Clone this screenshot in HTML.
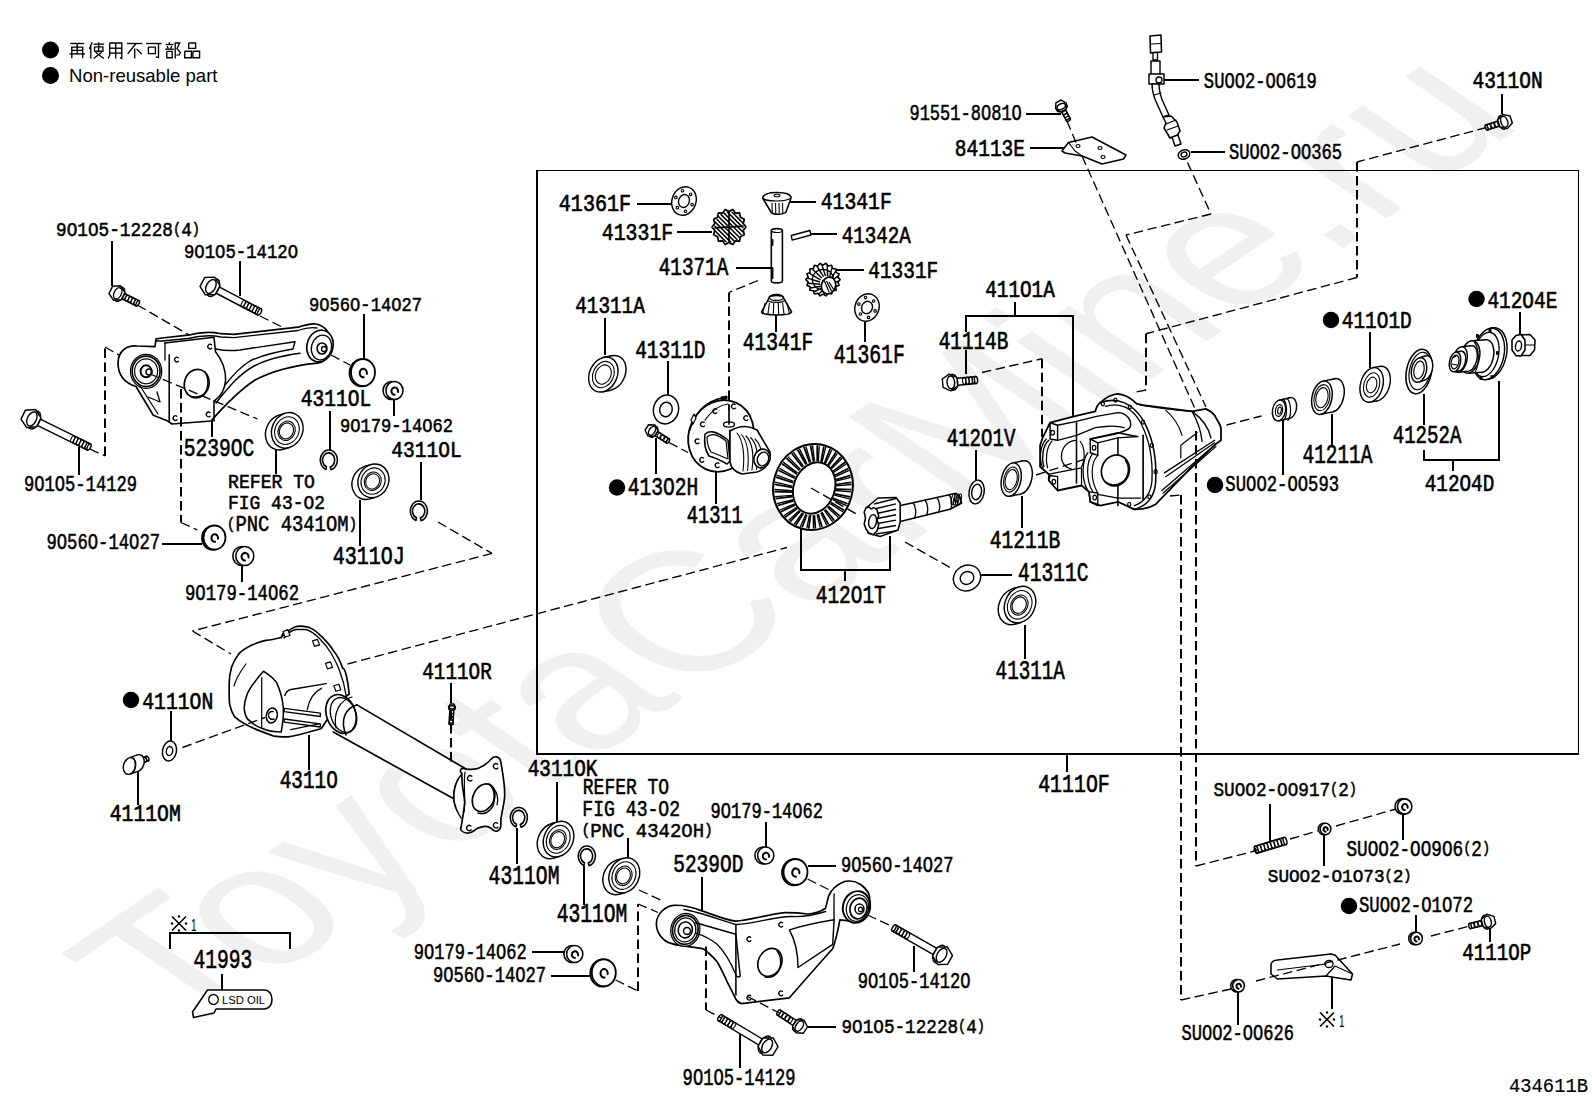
<!DOCTYPE html>
<html><head><meta charset="utf-8"><style>
html,body{margin:0;padding:0;background:#fff;width:1592px;height:1099px;overflow:hidden}
svg{display:block}
</style></head><body>
<svg width="1592" height="1099" viewBox="0 0 1592 1099">
<text transform="matrix(1.7044,-1.1624,1.7915,1.2267,181.33,1040.49)" font-family="Liberation Sans" font-size="100" fill="#f0f0f0">ToyotaCarMine.ru</text>
<polyline points="536,170.5 1579,170.5" fill="none" stroke="#000" stroke-width="1.1"/>
<polyline points="537,170 537,755" fill="none" stroke="#000" stroke-width="2"/>
<polyline points="536,754 1579,754" fill="none" stroke="#000" stroke-width="2"/>
<polyline points="1578.5,170 1578.5,755" fill="none" stroke="#000" stroke-width="1.1"/>
<circle cx="50.5" cy="50" r="8.5" fill="#000"/>
<circle cx="50.5" cy="75.5" r="8.5" fill="#000"/>
<circle cx="131" cy="700" r="8.25" fill="#000"/>
<circle cx="617" cy="487.5" r="8.25" fill="#000"/>
<circle cx="1331" cy="320" r="8.25" fill="#000"/>
<circle cx="1476.5" cy="299" r="8.25" fill="#000"/>
<circle cx="1215" cy="485" r="8.25" fill="#000"/>
<circle cx="1349" cy="906" r="8.25" fill="#000"/>
<text x="69" y="82" font-family="Liberation Sans" font-size="18.5" textLength="148.5" lengthAdjust="spacingAndGlyphs" fill="#000">Non-reusable part</text>
<polyline points="112,241 112,286" fill="none" stroke="#000" stroke-width="2"/>
<polyline points="240,261 240,296" fill="none" stroke="#000" stroke-width="2"/>
<polyline points="364,314 364,361" fill="none" stroke="#000" stroke-width="2"/>
<polyline points="330,411 330,450" fill="none" stroke="#000" stroke-width="2"/>
<polyline points="212,420 212,437" fill="none" stroke="#000" stroke-width="2"/>
<polyline points="79,447 79,475" fill="none" stroke="#000" stroke-width="2"/>
<polyline points="276,447 276,474" fill="none" stroke="#000" stroke-width="2"/>
<polyline points="360,500 360,546" fill="none" stroke="#000" stroke-width="2"/>
<polyline points="162,544 202,544" fill="none" stroke="#000" stroke-width="2"/>
<polyline points="394,399 394,416" fill="none" stroke="#000" stroke-width="2"/>
<polyline points="421,462 421,500" fill="none" stroke="#000" stroke-width="2"/>
<polyline points="242,565 242,582" fill="none" stroke="#000" stroke-width="2"/>
<polyline points="171,711 171,744" fill="none" stroke="#000" stroke-width="2"/>
<polyline points="138,767 138,805" fill="none" stroke="#000" stroke-width="2"/>
<polyline points="309,735 309,770" fill="none" stroke="#000" stroke-width="2"/>
<polyline points="222,974 222,990" fill="none" stroke="#000" stroke-width="2"/>
<polyline points="170,949 170,933 290,933 290,949" fill="none" stroke="#000" stroke-width="2"/>
<polyline points="637,204 672,204" fill="none" stroke="#000" stroke-width="2"/>
<polyline points="677,232 712,232" fill="none" stroke="#000" stroke-width="2"/>
<polyline points="736,268 772,268" fill="none" stroke="#000" stroke-width="2"/>
<polyline points="776,315 776,332" fill="none" stroke="#000" stroke-width="2"/>
<polyline points="605,318 605,355" fill="none" stroke="#000" stroke-width="2"/>
<polyline points="668,361 668,395" fill="none" stroke="#000" stroke-width="2"/>
<polyline points="656,438 656,474" fill="none" stroke="#000" stroke-width="2"/>
<polyline points="716,472 716,504" fill="none" stroke="#000" stroke-width="2"/>
<polyline points="1026,114 1061,114" fill="none" stroke="#000" stroke-width="2"/>
<polyline points="1030,148 1065,148" fill="none" stroke="#000" stroke-width="2"/>
<polyline points="786,202 816,202" fill="none" stroke="#000" stroke-width="2"/>
<polyline points="811,234 837,234" fill="none" stroke="#000" stroke-width="2"/>
<polyline points="836,270 864,270" fill="none" stroke="#000" stroke-width="2"/>
<polyline points="1162,80 1199,80" fill="none" stroke="#000" stroke-width="2"/>
<polyline points="1191,152 1225,152" fill="none" stroke="#000" stroke-width="2"/>
<polyline points="1502,94 1502,114" fill="none" stroke="#000" stroke-width="2"/>
<polyline points="865,321 865,342" fill="none" stroke="#000" stroke-width="2"/>
<polyline points="1015,302 1015,316" fill="none" stroke="#000" stroke-width="2"/>
<polyline points="966,332 966,316 1073,316 1073,417" fill="none" stroke="#000" stroke-width="2"/>
<polyline points="966,350 966,374" fill="none" stroke="#000" stroke-width="2"/>
<polyline points="976,450 976,480" fill="none" stroke="#000" stroke-width="2"/>
<polyline points="1520,312 1520,336" fill="none" stroke="#000" stroke-width="2"/>
<polyline points="1370,332 1370,368" fill="none" stroke="#000" stroke-width="2"/>
<polyline points="1424,394 1424,425" fill="none" stroke="#000" stroke-width="2"/>
<polyline points="1424,450 1424,460 1499,460 1499,381" fill="none" stroke="#000" stroke-width="2"/>
<polyline points="1453,460 1453,471" fill="none" stroke="#000" stroke-width="2"/>
<polyline points="1332,414 1332,445" fill="none" stroke="#000" stroke-width="2"/>
<polyline points="1283,420 1283,475" fill="none" stroke="#000" stroke-width="2"/>
<polyline points="1022,496 1022,528" fill="none" stroke="#000" stroke-width="2"/>
<polyline points="801,529 801,570 890,570 890,536" fill="none" stroke="#000" stroke-width="2"/>
<polyline points="845,570 845,581" fill="none" stroke="#000" stroke-width="2"/>
<polyline points="981,575 1012,575" fill="none" stroke="#000" stroke-width="2"/>
<polyline points="1025,625 1025,659" fill="none" stroke="#000" stroke-width="2"/>
<polyline points="1067,754 1067,772" fill="none" stroke="#000" stroke-width="2"/>
<polyline points="1270,804 1270,844" fill="none" stroke="#000" stroke-width="2"/>
<polyline points="1324,835 1324,866" fill="none" stroke="#000" stroke-width="2"/>
<polyline points="1403,814 1403,840" fill="none" stroke="#000" stroke-width="2"/>
<polyline points="1416,915 1416,932" fill="none" stroke="#000" stroke-width="2"/>
<polyline points="1490,929 1490,942" fill="none" stroke="#000" stroke-width="2"/>
<polyline points="1332,976 1332,1009" fill="none" stroke="#000" stroke-width="2"/>
<polyline points="1238,992 1238,1025" fill="none" stroke="#000" stroke-width="2"/>
<polyline points="517,828 517,864" fill="none" stroke="#000" stroke-width="2"/>
<polyline points="557,782 557,821" fill="none" stroke="#000" stroke-width="2"/>
<polyline points="584,866 584,905" fill="none" stroke="#000" stroke-width="2"/>
<polyline points="628,838 628,858" fill="none" stroke="#000" stroke-width="2"/>
<polyline points="702,877 702,911" fill="none" stroke="#000" stroke-width="2"/>
<polyline points="532,952 568,952" fill="none" stroke="#000" stroke-width="2"/>
<polyline points="551,976 593,976" fill="none" stroke="#000" stroke-width="2"/>
<polyline points="766,822 766,848" fill="none" stroke="#000" stroke-width="2"/>
<polyline points="808,866 836,866" fill="none" stroke="#000" stroke-width="2"/>
<polyline points="914,946 914,972" fill="none" stroke="#000" stroke-width="2"/>
<polyline points="808,1027 836,1027" fill="none" stroke="#000" stroke-width="2"/>
<polyline points="740,1034 740,1068" fill="none" stroke="#000" stroke-width="2"/>
<polyline points="451,683 451,703" fill="none" stroke="#000" stroke-width="2"/>
<polygon points="117.81,296.76 136.36,305.99 139.04,300.61 120.49,291.38" fill="#fff" stroke="#000" stroke-width="1.44" stroke-linejoin="round"/>
<ellipse cx="124.28" cy="296.62" rx="1.60" ry="3.00" fill="none" stroke="#000" stroke-width="1.08" transform="rotate(26.454227757232243 124.28 296.62)"/>
<ellipse cx="127.18" cy="298.07" rx="1.60" ry="3.00" fill="none" stroke="#000" stroke-width="1.08" transform="rotate(26.454227757232243 127.18 298.07)"/>
<ellipse cx="130.08" cy="299.51" rx="1.60" ry="3.00" fill="none" stroke="#000" stroke-width="1.08" transform="rotate(26.454227757232243 130.08 299.51)"/>
<ellipse cx="132.98" cy="300.95" rx="1.60" ry="3.00" fill="none" stroke="#000" stroke-width="1.08" transform="rotate(26.454227757232243 132.98 300.95)"/>
<ellipse cx="135.88" cy="302.39" rx="1.60" ry="3.00" fill="none" stroke="#000" stroke-width="1.08" transform="rotate(26.454227757232243 135.88 302.39)"/>
<ellipse cx="137.70" cy="303.30" rx="1.35" ry="3.00" fill="#fff" stroke="#000" stroke-width="1.44" transform="rotate(26.454227757232243 137.70 303.30)"/>
<ellipse cx="119.51" cy="294.25" rx="4.40" ry="7.60" fill="#fff" stroke="#000" stroke-width="1.44" transform="rotate(26.454227757232243 119.51 294.25)"/>
<polygon points="113.44,300.16 109.02,293.49 112.58,286.33 120.56,285.84 124.98,292.51 121.42,299.67" fill="#fff" stroke="#000" stroke-width="1.44" stroke-linejoin="round"/>
<ellipse cx="117.72" cy="293.36" rx="3.60" ry="6.00" fill="none" stroke="#000" stroke-width="1.44" transform="rotate(26.454227757232243 117.72 293.36)"/>
<polygon points="211.03,290.49 257.87,315.10 261.13,308.90 214.28,284.30" fill="#fff" stroke="#000" stroke-width="1.44" stroke-linejoin="round"/>
<ellipse cx="243.24" cy="303.46" rx="1.60" ry="3.50" fill="none" stroke="#000" stroke-width="1.08" transform="rotate(27.710814015253096 243.24 303.46)"/>
<ellipse cx="246.12" cy="304.97" rx="1.60" ry="3.50" fill="none" stroke="#000" stroke-width="1.08" transform="rotate(27.710814015253096 246.12 304.97)"/>
<ellipse cx="249.01" cy="306.49" rx="1.60" ry="3.50" fill="none" stroke="#000" stroke-width="1.08" transform="rotate(27.710814015253096 249.01 306.49)"/>
<ellipse cx="251.90" cy="308.01" rx="1.60" ry="3.50" fill="none" stroke="#000" stroke-width="1.08" transform="rotate(27.710814015253096 251.90 308.01)"/>
<ellipse cx="254.79" cy="309.52" rx="1.60" ry="3.50" fill="none" stroke="#000" stroke-width="1.08" transform="rotate(27.710814015253096 254.79 309.52)"/>
<ellipse cx="257.67" cy="311.04" rx="1.60" ry="3.50" fill="none" stroke="#000" stroke-width="1.08" transform="rotate(27.710814015253096 257.67 311.04)"/>
<ellipse cx="259.50" cy="312.00" rx="1.57" ry="3.50" fill="#fff" stroke="#000" stroke-width="1.44" transform="rotate(27.710814015253096 259.50 312.00)"/>
<ellipse cx="213.10" cy="287.63" rx="5.50" ry="9.50" fill="#fff" stroke="#000" stroke-width="1.44" transform="rotate(27.710814015253096 213.10 287.63)"/>
<polygon points="205.35,294.85 200.01,286.40 204.66,277.55 214.65,277.15 219.99,285.60 215.34,294.45" fill="#fff" stroke="#000" stroke-width="1.44" stroke-linejoin="round"/>
<ellipse cx="210.89" cy="286.47" rx="4.50" ry="7.50" fill="none" stroke="#000" stroke-width="1.44" transform="rotate(27.710814015253096 210.89 286.47)"/>
<polygon points="32.15,422.96 87.46,450.14 90.54,443.86 35.24,416.68" fill="#fff" stroke="#000" stroke-width="1.44" stroke-linejoin="round"/>
<ellipse cx="72.68" cy="438.98" rx="1.60" ry="3.50" fill="none" stroke="#000" stroke-width="1.08" transform="rotate(26.168546921944873 72.68 438.98)"/>
<ellipse cx="75.58" cy="440.40" rx="1.60" ry="3.50" fill="none" stroke="#000" stroke-width="1.08" transform="rotate(26.168546921944873 75.58 440.40)"/>
<ellipse cx="78.48" cy="441.83" rx="1.60" ry="3.50" fill="none" stroke="#000" stroke-width="1.08" transform="rotate(26.168546921944873 78.48 441.83)"/>
<ellipse cx="81.38" cy="443.25" rx="1.60" ry="3.50" fill="none" stroke="#000" stroke-width="1.08" transform="rotate(26.168546921944873 81.38 443.25)"/>
<ellipse cx="84.28" cy="444.68" rx="1.60" ry="3.50" fill="none" stroke="#000" stroke-width="1.08" transform="rotate(26.168546921944873 84.28 444.68)"/>
<ellipse cx="87.18" cy="446.10" rx="1.60" ry="3.50" fill="none" stroke="#000" stroke-width="1.08" transform="rotate(26.168546921944873 87.18 446.10)"/>
<ellipse cx="89.00" cy="447.00" rx="1.57" ry="3.50" fill="#fff" stroke="#000" stroke-width="1.44" transform="rotate(26.168546921944873 89.00 447.00)"/>
<ellipse cx="34.14" cy="420.04" rx="5.50" ry="9.50" fill="#fff" stroke="#000" stroke-width="1.44" transform="rotate(26.168546921944873 34.14 420.04)"/>
<polygon points="26.59,427.48 21.02,419.17 25.43,410.19 35.41,409.52 40.98,417.83 36.57,426.81" fill="#fff" stroke="#000" stroke-width="1.44" stroke-linejoin="round"/>
<ellipse cx="31.90" cy="418.94" rx="4.50" ry="7.50" fill="none" stroke="#000" stroke-width="1.44" transform="rotate(26.168546921944873 31.90 418.94)"/>
<polygon points="651.80,433.66 666.66,443.11 669.34,438.89 654.49,429.44" fill="#fff" stroke="#000" stroke-width="1.44" stroke-linejoin="round"/>
<ellipse cx="659.11" cy="435.34" rx="1.60" ry="2.50" fill="none" stroke="#000" stroke-width="1.08" transform="rotate(32.47119229084849 659.11 435.34)"/>
<ellipse cx="662.41" cy="437.44" rx="1.60" ry="2.50" fill="none" stroke="#000" stroke-width="1.08" transform="rotate(32.47119229084849 662.41 437.44)"/>
<ellipse cx="665.71" cy="439.54" rx="1.60" ry="2.50" fill="none" stroke="#000" stroke-width="1.08" transform="rotate(32.47119229084849 665.71 439.54)"/>
<ellipse cx="668.00" cy="441.00" rx="1.12" ry="2.50" fill="#fff" stroke="#000" stroke-width="1.44" transform="rotate(32.47119229084849 668.00 441.00)"/>
<ellipse cx="653.42" cy="431.72" rx="3.58" ry="6.17" fill="#fff" stroke="#000" stroke-width="1.44" transform="rotate(32.47119229084849 653.42 431.72)"/>
<polygon points="648.01,435.98 645.01,430.22 648.50,424.74 654.99,425.02 657.99,430.78 654.50,436.26" fill="#fff" stroke="#000" stroke-width="1.44" stroke-linejoin="round"/>
<ellipse cx="652.05" cy="430.85" rx="2.93" ry="4.88" fill="none" stroke="#000" stroke-width="1.44" transform="rotate(32.47119229084849 652.05 430.85)"/>
<polygon points="1059.87,108.65 1066.52,121.06 1070.48,118.94 1063.83,106.52" fill="#fff" stroke="#000" stroke-width="1.44" stroke-linejoin="round"/>
<ellipse cx="1064.57" cy="112.66" rx="1.60" ry="2.25" fill="none" stroke="#000" stroke-width="1.08" transform="rotate(61.82140989004083 1064.57 112.66)"/>
<ellipse cx="1066.07" cy="115.46" rx="1.60" ry="2.25" fill="none" stroke="#000" stroke-width="1.08" transform="rotate(61.82140989004083 1066.07 115.46)"/>
<ellipse cx="1067.57" cy="118.26" rx="1.60" ry="2.25" fill="none" stroke="#000" stroke-width="1.08" transform="rotate(61.82140989004083 1067.57 118.26)"/>
<ellipse cx="1068.50" cy="120.00" rx="1.01" ry="2.25" fill="#fff" stroke="#000" stroke-width="1.44" transform="rotate(61.82140989004083 1068.50 120.00)"/>
<ellipse cx="1061.99" cy="107.85" rx="3.30" ry="5.70" fill="#fff" stroke="#000" stroke-width="1.44" transform="rotate(61.82140989004083 1061.99 107.85)"/>
<polygon points="1055.71,108.83 1055.90,102.84 1061.19,100.00 1066.29,103.17 1066.10,109.16 1060.81,112.00" fill="#fff" stroke="#000" stroke-width="1.44" stroke-linejoin="round"/>
<ellipse cx="1061.28" cy="106.53" rx="2.70" ry="4.50" fill="none" stroke="#000" stroke-width="1.44" transform="rotate(61.82140989004083 1061.28 106.53)"/>
<polygon points="952.87,385.74 976.33,383.48 975.67,376.52 952.20,378.77" fill="#fff" stroke="#000" stroke-width="1.44" stroke-linejoin="round"/>
<ellipse cx="964.19" cy="381.14" rx="1.60" ry="3.50" fill="none" stroke="#000" stroke-width="1.08" transform="rotate(-5.492324557127438 964.19 381.14)"/>
<ellipse cx="967.44" cy="380.82" rx="1.60" ry="3.50" fill="none" stroke="#000" stroke-width="1.08" transform="rotate(-5.492324557127438 967.44 380.82)"/>
<ellipse cx="970.69" cy="380.51" rx="1.60" ry="3.50" fill="none" stroke="#000" stroke-width="1.08" transform="rotate(-5.492324557127438 970.69 380.51)"/>
<ellipse cx="973.94" cy="380.20" rx="1.60" ry="3.50" fill="none" stroke="#000" stroke-width="1.08" transform="rotate(-5.492324557127438 973.94 380.20)"/>
<ellipse cx="976.00" cy="380.00" rx="1.57" ry="3.50" fill="#fff" stroke="#000" stroke-width="1.44" transform="rotate(-5.492324557127438 976.00 380.00)"/>
<ellipse cx="952.96" cy="382.22" rx="4.68" ry="8.07" fill="#fff" stroke="#000" stroke-width="1.44" transform="rotate(-5.492324557127438 952.96 382.22)"/>
<polygon points="950.81,390.96 943.08,387.44 942.27,378.97 949.19,374.04 956.92,377.56 957.73,386.03" fill="#fff" stroke="#000" stroke-width="1.44" stroke-linejoin="round"/>
<ellipse cx="950.85" cy="382.42" rx="3.83" ry="6.38" fill="none" stroke="#000" stroke-width="1.44" transform="rotate(-5.492324557127438 950.85 382.42)"/>
<polygon points="1502.01,119.58 1485.65,124.88 1487.35,130.12 1503.71,124.81" fill="#fff" stroke="#000" stroke-width="1.44" stroke-linejoin="round"/>
<ellipse cx="1496.46" cy="124.27" rx="1.60" ry="2.75" fill="none" stroke="#000" stroke-width="1.08" transform="rotate(162.030860259843 1496.46 124.27)"/>
<ellipse cx="1492.76" cy="125.47" rx="1.60" ry="2.75" fill="none" stroke="#000" stroke-width="1.08" transform="rotate(162.030860259843 1492.76 125.47)"/>
<ellipse cx="1489.06" cy="126.67" rx="1.60" ry="2.75" fill="none" stroke="#000" stroke-width="1.08" transform="rotate(162.030860259843 1489.06 126.67)"/>
<ellipse cx="1486.50" cy="127.50" rx="1.24" ry="2.75" fill="#fff" stroke="#000" stroke-width="1.44" transform="rotate(162.030860259843 1486.50 127.50)"/>
<ellipse cx="1502.50" cy="122.31" rx="4.12" ry="7.12" fill="#fff" stroke="#000" stroke-width="1.44" transform="rotate(162.030860259843 1502.50 122.31)"/>
<polygon points="1502.69,114.37 1510.02,115.93 1512.34,123.06 1507.31,128.63 1499.98,127.07 1497.66,119.94" fill="#fff" stroke="#000" stroke-width="1.44" stroke-linejoin="round"/>
<ellipse cx="1504.29" cy="121.73" rx="3.38" ry="5.62" fill="none" stroke="#000" stroke-width="1.44" transform="rotate(162.030860259843 1504.29 121.73)"/>
<polygon points="1485.66,919.36 1469.35,923.33 1470.65,928.67 1486.96,924.70" fill="#fff" stroke="#000" stroke-width="1.44" stroke-linejoin="round"/>
<ellipse cx="1479.93" cy="923.58" rx="1.60" ry="2.75" fill="none" stroke="#000" stroke-width="1.08" transform="rotate(166.32869286780416 1479.93 923.58)"/>
<ellipse cx="1476.23" cy="924.48" rx="1.60" ry="2.75" fill="none" stroke="#000" stroke-width="1.08" transform="rotate(166.32869286780416 1476.23 924.48)"/>
<ellipse cx="1472.53" cy="925.38" rx="1.60" ry="2.75" fill="none" stroke="#000" stroke-width="1.08" transform="rotate(166.32869286780416 1472.53 925.38)"/>
<ellipse cx="1470.00" cy="926.00" rx="1.24" ry="2.75" fill="#fff" stroke="#000" stroke-width="1.44" transform="rotate(166.32869286780416 1470.00 926.00)"/>
<ellipse cx="1485.95" cy="922.12" rx="4.12" ry="7.12" fill="#fff" stroke="#000" stroke-width="1.44" transform="rotate(166.32869286780416 1485.95 922.12)"/>
<polygon points="1486.73,914.21 1493.92,916.32 1495.70,923.61 1490.27,928.79 1483.08,926.68 1481.30,919.39" fill="#fff" stroke="#000" stroke-width="1.44" stroke-linejoin="round"/>
<ellipse cx="1487.77" cy="921.68" rx="3.38" ry="5.62" fill="none" stroke="#000" stroke-width="1.44" transform="rotate(166.32869286780416 1487.77 921.68)"/>
<polygon points="941.63,951.22 895.74,924.96 892.26,931.04 938.16,957.30" fill="#fff" stroke="#000" stroke-width="1.44" stroke-linejoin="round"/>
<ellipse cx="907.51" cy="935.73" rx="1.60" ry="3.50" fill="none" stroke="#000" stroke-width="1.08" transform="rotate(-150.22332304621455 907.51 935.73)"/>
<ellipse cx="904.60" cy="934.06" rx="1.60" ry="3.50" fill="none" stroke="#000" stroke-width="1.08" transform="rotate(-150.22332304621455 904.60 934.06)"/>
<ellipse cx="901.69" cy="932.40" rx="1.60" ry="3.50" fill="none" stroke="#000" stroke-width="1.08" transform="rotate(-150.22332304621455 901.69 932.40)"/>
<ellipse cx="898.78" cy="930.73" rx="1.60" ry="3.50" fill="none" stroke="#000" stroke-width="1.08" transform="rotate(-150.22332304621455 898.78 930.73)"/>
<ellipse cx="895.87" cy="929.07" rx="1.60" ry="3.50" fill="none" stroke="#000" stroke-width="1.08" transform="rotate(-150.22332304621455 895.87 929.07)"/>
<ellipse cx="894.00" cy="928.00" rx="1.57" ry="3.50" fill="#fff" stroke="#000" stroke-width="1.44" transform="rotate(-150.22332304621455 894.00 928.00)"/>
<ellipse cx="939.46" cy="954.01" rx="5.50" ry="9.50" fill="#fff" stroke="#000" stroke-width="1.44" transform="rotate(-150.22332304621455 939.46 954.01)"/>
<polygon points="947.47,947.07 952.50,955.71 947.53,964.39 937.53,964.43 932.50,955.79 937.47,947.11" fill="#fff" stroke="#000" stroke-width="1.44" stroke-linejoin="round"/>
<ellipse cx="941.63" cy="955.25" rx="4.50" ry="7.50" fill="none" stroke="#000" stroke-width="1.44" transform="rotate(-150.22332304621455 941.63 955.25)"/>
<polygon points="799.77,1022.76 780.40,1009.99 777.10,1015.01 796.47,1027.77" fill="#fff" stroke="#000" stroke-width="1.44" stroke-linejoin="round"/>
<ellipse cx="790.50" cy="1020.24" rx="1.60" ry="3.00" fill="none" stroke="#000" stroke-width="1.08" transform="rotate(-146.62216796356958 790.50 1020.24)"/>
<ellipse cx="787.31" cy="1018.14" rx="1.60" ry="3.00" fill="none" stroke="#000" stroke-width="1.08" transform="rotate(-146.62216796356958 787.31 1018.14)"/>
<ellipse cx="784.12" cy="1016.04" rx="1.60" ry="3.00" fill="none" stroke="#000" stroke-width="1.08" transform="rotate(-146.62216796356958 784.12 1016.04)"/>
<ellipse cx="780.94" cy="1013.94" rx="1.60" ry="3.00" fill="none" stroke="#000" stroke-width="1.08" transform="rotate(-146.62216796356958 780.94 1013.94)"/>
<ellipse cx="778.75" cy="1012.50" rx="1.35" ry="3.00" fill="#fff" stroke="#000" stroke-width="1.44" transform="rotate(-146.62216796356958 778.75 1012.50)"/>
<ellipse cx="797.81" cy="1025.06" rx="4.12" ry="7.12" fill="#fff" stroke="#000" stroke-width="1.44" transform="rotate(-146.62216796356958 797.81 1025.06)"/>
<polygon points="804.13,1020.24 807.49,1026.94 803.36,1033.20 795.87,1032.76 792.51,1026.06 796.64,1019.80" fill="#fff" stroke="#000" stroke-width="1.44" stroke-linejoin="round"/>
<ellipse cx="799.37" cy="1026.09" rx="3.38" ry="5.62" fill="none" stroke="#000" stroke-width="1.44" transform="rotate(-146.62216796356958 799.37 1026.09)"/>
<polygon points="767.22,1041.96 721.80,1014.75 718.20,1020.75 763.63,1047.96" fill="#fff" stroke="#000" stroke-width="1.44" stroke-linejoin="round"/>
<ellipse cx="733.37" cy="1025.76" rx="1.60" ry="3.50" fill="none" stroke="#000" stroke-width="1.08" transform="rotate(-149.08014827122042 733.37 1025.76)"/>
<ellipse cx="730.49" cy="1024.03" rx="1.60" ry="3.50" fill="none" stroke="#000" stroke-width="1.08" transform="rotate(-149.08014827122042 730.49 1024.03)"/>
<ellipse cx="727.61" cy="1022.31" rx="1.60" ry="3.50" fill="none" stroke="#000" stroke-width="1.08" transform="rotate(-149.08014827122042 727.61 1022.31)"/>
<ellipse cx="724.73" cy="1020.58" rx="1.60" ry="3.50" fill="none" stroke="#000" stroke-width="1.08" transform="rotate(-149.08014827122042 724.73 1020.58)"/>
<ellipse cx="721.85" cy="1018.86" rx="1.60" ry="3.50" fill="none" stroke="#000" stroke-width="1.08" transform="rotate(-149.08014827122042 721.85 1018.86)"/>
<ellipse cx="720.00" cy="1017.75" rx="1.57" ry="3.50" fill="#fff" stroke="#000" stroke-width="1.44" transform="rotate(-149.08014827122042 720.00 1017.75)"/>
<ellipse cx="765.00" cy="1044.70" rx="5.50" ry="9.50" fill="#fff" stroke="#000" stroke-width="1.44" transform="rotate(-149.08014827122042 765.00 1044.70)"/>
<polygon points="773.14,1037.92 778.00,1046.66 772.86,1055.24 762.86,1055.08 758.00,1046.34 763.14,1037.76" fill="#fff" stroke="#000" stroke-width="1.44" stroke-linejoin="round"/>
<ellipse cx="767.14" cy="1045.99" rx="4.50" ry="7.50" fill="none" stroke="#000" stroke-width="1.44" transform="rotate(-149.08014827122042 767.14 1045.99)"/>
<polygon points="449.94,707.93 449.00,723.88 453.00,724.12 453.93,708.17" fill="#fff" stroke="#000" stroke-width="1.44" stroke-linejoin="round"/>
<ellipse cx="451.53" cy="715.00" rx="1.60" ry="2.00" fill="none" stroke="#000" stroke-width="1.08" transform="rotate(93.3664606634298 451.53 715.00)"/>
<ellipse cx="451.33" cy="718.40" rx="1.60" ry="2.00" fill="none" stroke="#000" stroke-width="1.08" transform="rotate(93.3664606634298 451.33 718.40)"/>
<ellipse cx="451.13" cy="721.80" rx="1.60" ry="2.00" fill="none" stroke="#000" stroke-width="1.08" transform="rotate(93.3664606634298 451.13 721.80)"/>
<ellipse cx="451.00" cy="724.00" rx="0.90" ry="2.00" fill="#fff" stroke="#000" stroke-width="1.44" transform="rotate(93.3664606634298 451.00 724.00)"/>
<ellipse cx="451.93" cy="708.22" rx="1.93" ry="3.32" fill="#fff" stroke="#000" stroke-width="1.44" transform="rotate(93.3664606634298 451.93 708.22)"/>
<polygon points="448.51,706.79 450.43,703.87 453.92,704.08 455.49,707.21 453.57,710.13 450.08,709.92" fill="#fff" stroke="#000" stroke-width="1.44" stroke-linejoin="round"/>
<ellipse cx="451.98" cy="707.35" rx="1.57" ry="2.62" fill="none" stroke="#000" stroke-width="1.44" transform="rotate(93.3664606634298 451.98 707.35)"/>
<polygon points="137.19,765.22 148.41,760.83 146.59,756.17 135.37,760.56" fill="#fff" stroke="#000" stroke-width="1.44" stroke-linejoin="round"/>
<ellipse cx="137.12" cy="762.56" rx="1.60" ry="2.50" fill="none" stroke="#000" stroke-width="1.08" transform="rotate(-21.370622269343183 137.12 762.56)"/>
<ellipse cx="140.95" cy="761.06" rx="1.60" ry="2.50" fill="none" stroke="#000" stroke-width="1.08" transform="rotate(-21.370622269343183 140.95 761.06)"/>
<ellipse cx="144.78" cy="759.56" rx="1.60" ry="2.50" fill="none" stroke="#000" stroke-width="1.08" transform="rotate(-21.370622269343183 144.78 759.56)"/>
<ellipse cx="147.50" cy="758.50" rx="1.12" ry="2.50" fill="#fff" stroke="#000" stroke-width="1.44" transform="rotate(-21.370622269343183 147.50 758.50)"/>
<ellipse cx="136.33" cy="762.87" rx="0.55" ry="0.95" fill="#fff" stroke="#000" stroke-width="1.44" transform="rotate(-21.370622269343183 136.33 762.87)"/>
<polygon points="136.36,763.93 135.38,763.78 135.01,762.85 135.64,762.07 136.62,762.22 136.99,763.15" fill="#fff" stroke="#000" stroke-width="1.44" stroke-linejoin="round"/>
<ellipse cx="136.09" cy="762.96" rx="0.45" ry="0.75" fill="none" stroke="#000" stroke-width="1.44" transform="rotate(-21.370622269343183 136.09 762.96)"/>
<ellipse cx="138.00" cy="763.00" rx="6.00" ry="8.50" fill="#fff" stroke="#000" stroke-width="1.44" transform="rotate(15 138.00 763.00)"/>
<polygon points="137.46,754.93 128.96,757.93 130.04,774.07 138.54,771.07" fill="#fff" stroke="none"/>
<line x1="137.46" y1="754.93" x2="128.96" y2="757.93" stroke="#000" stroke-width="1.44"/>
<line x1="138.54" y1="771.07" x2="130.04" y2="774.07" stroke="#000" stroke-width="1.44"/>
<ellipse cx="129.50" cy="766.00" rx="6.00" ry="8.50" fill="#fff" stroke="#000" stroke-width="1.44" transform="rotate(15 129.50 766.00)"/>
<path d="M133,758 C136,760 136,769 133,773" fill="none" stroke="#000" stroke-width="1.20" stroke-linejoin="round" stroke-linecap="round"/>
<polygon points="1256.36,853.51 1286.08,844.59 1283.92,837.41 1254.21,846.32" fill="#fff" stroke="#000" stroke-width="1.44" stroke-linejoin="round"/>
<ellipse cx="1256.15" cy="849.66" rx="1.60" ry="3.75" fill="none" stroke="#000" stroke-width="1.08" transform="rotate(-16.69924423399362 1256.15 849.66)"/>
<ellipse cx="1259.48" cy="848.66" rx="1.60" ry="3.75" fill="none" stroke="#000" stroke-width="1.08" transform="rotate(-16.69924423399362 1259.48 848.66)"/>
<ellipse cx="1262.82" cy="847.66" rx="1.60" ry="3.75" fill="none" stroke="#000" stroke-width="1.08" transform="rotate(-16.69924423399362 1262.82 847.66)"/>
<ellipse cx="1266.15" cy="846.66" rx="1.60" ry="3.75" fill="none" stroke="#000" stroke-width="1.08" transform="rotate(-16.69924423399362 1266.15 846.66)"/>
<ellipse cx="1269.48" cy="845.66" rx="1.60" ry="3.75" fill="none" stroke="#000" stroke-width="1.08" transform="rotate(-16.69924423399362 1269.48 845.66)"/>
<ellipse cx="1272.82" cy="844.66" rx="1.60" ry="3.75" fill="none" stroke="#000" stroke-width="1.08" transform="rotate(-16.69924423399362 1272.82 844.66)"/>
<ellipse cx="1276.15" cy="843.66" rx="1.60" ry="3.75" fill="none" stroke="#000" stroke-width="1.08" transform="rotate(-16.69924423399362 1276.15 843.66)"/>
<ellipse cx="1279.48" cy="842.66" rx="1.60" ry="3.75" fill="none" stroke="#000" stroke-width="1.08" transform="rotate(-16.69924423399362 1279.48 842.66)"/>
<ellipse cx="1282.82" cy="841.66" rx="1.60" ry="3.75" fill="none" stroke="#000" stroke-width="1.08" transform="rotate(-16.69924423399362 1282.82 841.66)"/>
<ellipse cx="1285.00" cy="841.00" rx="1.69" ry="3.75" fill="#fff" stroke="#000" stroke-width="1.44" transform="rotate(-16.69924423399362 1285.00 841.00)"/>
<ellipse cx="1255.34" cy="849.90" rx="0.55" ry="0.95" fill="#fff" stroke="#000" stroke-width="1.44" transform="rotate(-16.69924423399362 1255.34 849.90)"/>
<polygon points="1255.29,850.96 1254.31,850.73 1254.03,849.77 1254.71,849.04 1255.69,849.27 1255.97,850.23" fill="#fff" stroke="#000" stroke-width="1.44" stroke-linejoin="round"/>
<ellipse cx="1255.10" cy="849.97" rx="0.45" ry="0.75" fill="none" stroke="#000" stroke-width="1.44" transform="rotate(-16.69924423399362 1255.10 849.97)"/>
<ellipse cx="391.61" cy="390.50" rx="8.55" ry="9.03" fill="#fff" stroke="#000" stroke-width="1.56"/>
<ellipse cx="394.46" cy="390.50" rx="8.55" ry="9.03" fill="#fff" stroke="#000" stroke-width="1.56"/>
<path d="M397.97,391.93 A3.32,3.61 0 1 0 394.65,394.77" fill="none" stroke="#000" stroke-width="2.04" stroke-linejoin="round" stroke-linecap="round"/>
<ellipse cx="241.80" cy="556.00" rx="9.00" ry="9.50" fill="#fff" stroke="#000" stroke-width="1.56"/>
<ellipse cx="244.80" cy="556.00" rx="9.00" ry="9.50" fill="#fff" stroke="#000" stroke-width="1.56"/>
<path d="M248.50,557.50 A3.50,3.80 0 1 0 245.00,560.50" fill="none" stroke="#000" stroke-width="2.04" stroke-linejoin="round" stroke-linecap="round"/>
<ellipse cx="572.02" cy="954.00" rx="8.10" ry="8.55" fill="#fff" stroke="#000" stroke-width="1.56"/>
<ellipse cx="574.72" cy="954.00" rx="8.10" ry="8.55" fill="#fff" stroke="#000" stroke-width="1.56"/>
<path d="M578.05,955.35 A3.15,3.42 0 1 0 574.90,958.05" fill="none" stroke="#000" stroke-width="2.04" stroke-linejoin="round" stroke-linecap="round"/>
<ellipse cx="763.02" cy="855.50" rx="8.10" ry="8.55" fill="#fff" stroke="#000" stroke-width="1.56"/>
<ellipse cx="765.72" cy="855.50" rx="8.10" ry="8.55" fill="#fff" stroke="#000" stroke-width="1.56"/>
<path d="M769.05,856.85 A3.15,3.42 0 1 0 765.90,859.55" fill="none" stroke="#000" stroke-width="2.04" stroke-linejoin="round" stroke-linecap="round"/>
<ellipse cx="1402.24" cy="806.50" rx="7.20" ry="7.60" fill="#fff" stroke="#000" stroke-width="1.56"/>
<ellipse cx="1404.64" cy="806.50" rx="7.20" ry="7.60" fill="#fff" stroke="#000" stroke-width="1.56"/>
<path d="M1407.60,807.70 A2.80,3.04 0 1 0 1404.80,810.10" fill="none" stroke="#000" stroke-width="2.04" stroke-linejoin="round" stroke-linecap="round"/>
<ellipse cx="1323.68" cy="829.00" rx="5.40" ry="5.70" fill="#fff" stroke="#000" stroke-width="1.56"/>
<ellipse cx="1325.48" cy="829.00" rx="5.40" ry="5.70" fill="#fff" stroke="#000" stroke-width="1.56"/>
<path d="M1327.70,829.90 A2.10,2.28 0 1 0 1325.60,831.70" fill="none" stroke="#000" stroke-width="2.04" stroke-linejoin="round" stroke-linecap="round"/>
<ellipse cx="1414.57" cy="938.50" rx="5.85" ry="6.17" fill="#fff" stroke="#000" stroke-width="1.56"/>
<ellipse cx="1416.52" cy="938.50" rx="5.85" ry="6.17" fill="#fff" stroke="#000" stroke-width="1.56"/>
<path d="M1418.92,939.48 A2.27,2.47 0 1 0 1416.65,941.42" fill="none" stroke="#000" stroke-width="2.04" stroke-linejoin="round" stroke-linecap="round"/>
<ellipse cx="1236.57" cy="985.75" rx="5.85" ry="6.17" fill="#fff" stroke="#000" stroke-width="1.56"/>
<ellipse cx="1238.52" cy="985.75" rx="5.85" ry="6.17" fill="#fff" stroke="#000" stroke-width="1.56"/>
<path d="M1240.92,986.73 A2.27,2.47 0 1 0 1238.65,988.67" fill="none" stroke="#000" stroke-width="2.04" stroke-linejoin="round" stroke-linecap="round"/>
<ellipse cx="361.50" cy="372.95" rx="12.00" ry="13.50" fill="#fff" stroke="#000" stroke-width="1.80"/>
<ellipse cx="363.00" cy="372.50" rx="12.00" ry="13.50" fill="#fff" stroke="#000" stroke-width="1.80"/>
<path d="M366.84,373.85 A3.60,4.32 0 1 0 363.60,377.36" fill="none" stroke="#000" stroke-width="2.04" stroke-linejoin="round" stroke-linecap="round"/>
<ellipse cx="213.00" cy="537.95" rx="11.00" ry="12.00" fill="#fff" stroke="#000" stroke-width="1.80"/>
<ellipse cx="214.50" cy="537.50" rx="11.00" ry="12.00" fill="#fff" stroke="#000" stroke-width="1.80"/>
<path d="M218.02,538.70 A3.30,3.84 0 1 0 215.05,541.82" fill="none" stroke="#000" stroke-width="2.04" stroke-linejoin="round" stroke-linecap="round"/>
<ellipse cx="602.30" cy="973.20" rx="12.00" ry="13.50" fill="#fff" stroke="#000" stroke-width="1.80"/>
<ellipse cx="603.80" cy="972.75" rx="12.00" ry="13.50" fill="#fff" stroke="#000" stroke-width="1.80"/>
<path d="M607.64,974.10 A3.60,4.32 0 1 0 604.40,977.61" fill="none" stroke="#000" stroke-width="2.04" stroke-linejoin="round" stroke-linecap="round"/>
<ellipse cx="794.00" cy="872.45" rx="12.00" ry="13.00" fill="#fff" stroke="#000" stroke-width="1.80"/>
<ellipse cx="795.50" cy="872.00" rx="12.00" ry="13.00" fill="#fff" stroke="#000" stroke-width="1.80"/>
<path d="M799.34,873.30 A3.60,4.16 0 1 0 796.10,876.68" fill="none" stroke="#000" stroke-width="2.04" stroke-linejoin="round" stroke-linecap="round"/>
<ellipse cx="684.00" cy="201.00" rx="12.00" ry="14.50" fill="#fff" stroke="#000" stroke-width="1.44" transform="rotate(20 684.00 201.00)"/>
<ellipse cx="684.00" cy="201.00" rx="5.40" ry="6.53" fill="none" stroke="#000" stroke-width="1.44" transform="rotate(20 684.00 201.00)"/>
<ellipse cx="692.12" cy="204.57" rx="1.30" ry="1.30" fill="none" stroke="#000" stroke-width="1.08"/>
<ellipse cx="685.50" cy="211.28" rx="1.30" ry="1.30" fill="none" stroke="#000" stroke-width="1.08"/>
<ellipse cx="677.38" cy="207.71" rx="1.30" ry="1.30" fill="none" stroke="#000" stroke-width="1.08"/>
<ellipse cx="675.88" cy="197.43" rx="1.30" ry="1.30" fill="none" stroke="#000" stroke-width="1.08"/>
<ellipse cx="682.50" cy="190.72" rx="1.30" ry="1.30" fill="none" stroke="#000" stroke-width="1.08"/>
<ellipse cx="690.62" cy="194.29" rx="1.30" ry="1.30" fill="none" stroke="#000" stroke-width="1.08"/>
<ellipse cx="867.00" cy="307.50" rx="12.00" ry="14.00" fill="#fff" stroke="#000" stroke-width="1.44" transform="rotate(20 867.00 307.50)"/>
<ellipse cx="867.00" cy="307.50" rx="5.40" ry="6.30" fill="none" stroke="#000" stroke-width="1.44" transform="rotate(20 867.00 307.50)"/>
<ellipse cx="875.12" cy="310.95" rx="1.30" ry="1.30" fill="none" stroke="#000" stroke-width="1.08"/>
<ellipse cx="868.50" cy="317.43" rx="1.30" ry="1.30" fill="none" stroke="#000" stroke-width="1.08"/>
<ellipse cx="860.38" cy="313.98" rx="1.30" ry="1.30" fill="none" stroke="#000" stroke-width="1.08"/>
<ellipse cx="858.88" cy="304.05" rx="1.30" ry="1.30" fill="none" stroke="#000" stroke-width="1.08"/>
<ellipse cx="865.50" cy="297.57" rx="1.30" ry="1.30" fill="none" stroke="#000" stroke-width="1.08"/>
<ellipse cx="873.62" cy="301.02" rx="1.30" ry="1.30" fill="none" stroke="#000" stroke-width="1.08"/>
<ellipse cx="666.00" cy="409.50" rx="12.50" ry="14.50" fill="#fff" stroke="#000" stroke-width="1.44" transform="rotate(15 666.00 409.50)"/>
<ellipse cx="666.00" cy="409.50" rx="6.25" ry="7.25" fill="none" stroke="#000" stroke-width="1.44" transform="rotate(15 666.00 409.50)"/>
<ellipse cx="976.60" cy="492.00" rx="7.50" ry="12.00" fill="#fff" stroke="#000" stroke-width="1.44" transform="rotate(10 976.60 492.00)"/>
<ellipse cx="976.60" cy="492.00" rx="4.88" ry="7.80" fill="none" stroke="#000" stroke-width="1.44" transform="rotate(10 976.60 492.00)"/>
<ellipse cx="967.00" cy="578.00" rx="12.50" ry="14.00" fill="#fff" stroke="#000" stroke-width="1.44" transform="rotate(60 967.00 578.00)"/>
<ellipse cx="967.00" cy="578.00" rx="6.25" ry="7.00" fill="none" stroke="#000" stroke-width="1.44" transform="rotate(60 967.00 578.00)"/>
<ellipse cx="169.50" cy="751.00" rx="7.00" ry="10.00" fill="#fff" stroke="#000" stroke-width="1.44" transform="rotate(10 169.50 751.00)"/>
<ellipse cx="169.50" cy="751.00" rx="3.15" ry="4.50" fill="none" stroke="#000" stroke-width="1.44" transform="rotate(10 169.50 751.00)"/>
<ellipse cx="1184.00" cy="154.50" rx="6.00" ry="4.50" fill="#fff" stroke="#000" stroke-width="1.44" transform="rotate(-20 1184.00 154.50)"/>
<ellipse cx="1184.00" cy="154.50" rx="3.00" ry="2.25" fill="none" stroke="#000" stroke-width="1.44" transform="rotate(-20 1184.00 154.50)"/>
<path d="M326.02,469.50 A8.50,10.00 0 1 1 331.12,469.70 L330.27,467.00 A6.12,7.20 0 1 0 326.45,466.80 Z" fill="#fff" stroke="#000" stroke-width="1.56" stroke-linejoin="round" stroke-linecap="round"/>
<path d="M416.02,520.50 A8.50,10.00 0 1 1 421.12,520.70 L420.27,518.00 A6.12,7.20 0 1 0 416.45,517.80 Z" fill="#fff" stroke="#000" stroke-width="1.56" stroke-linejoin="round" stroke-linecap="round"/>
<path d="M516.02,827.00 A8.50,10.00 0 1 1 521.12,827.20 L520.27,824.50 A6.12,7.20 0 1 0 516.45,824.30 Z" fill="#fff" stroke="#000" stroke-width="1.56" stroke-linejoin="round" stroke-linecap="round"/>
<path d="M584.02,865.50 A8.50,10.00 0 1 1 589.12,865.70 L588.27,863.00 A6.12,7.20 0 1 0 584.45,862.80 Z" fill="#fff" stroke="#000" stroke-width="1.56" stroke-linejoin="round" stroke-linecap="round"/>
<ellipse cx="281.28" cy="432.15" rx="15.28" ry="18.19" fill="#fff" stroke="#000" stroke-width="1.44" transform="rotate(25 281.28 432.15)"/>
<polygon points="283.42,449.22 289.42,447.42 285.14,413.28 279.14,415.08" fill="#fff" stroke="none"/>
<line x1="283.42" y1="449.22" x2="289.42" y2="447.42" stroke="#000" stroke-width="1.44"/>
<line x1="279.14" y1="415.08" x2="285.14" y2="413.28" stroke="#000" stroke-width="1.44"/>
<ellipse cx="287.28" cy="430.35" rx="15.28" ry="18.19" fill="#fff" stroke="#000" stroke-width="1.44" transform="rotate(25 287.28 430.35)"/>
<ellipse cx="286.95" cy="430.57" rx="11.92" ry="14.19" fill="none" stroke="#000" stroke-width="1.08" transform="rotate(25 286.95 430.57)"/>
<ellipse cx="286.60" cy="430.80" rx="8.40" ry="10.00" fill="none" stroke="#000" stroke-width="1.08" transform="rotate(25 286.60 430.80)"/>
<ellipse cx="286.45" cy="430.90" rx="6.87" ry="8.18" fill="none" stroke="#000" stroke-width="1.08" transform="rotate(25 286.45 430.90)"/>
<ellipse cx="367.43" cy="482.65" rx="15.13" ry="17.22" fill="#fff" stroke="#000" stroke-width="1.44" transform="rotate(25 367.43 482.65)"/>
<polygon points="370.16,498.88 376.16,497.08 370.71,464.62 364.71,466.42" fill="#fff" stroke="none"/>
<line x1="370.16" y1="498.88" x2="376.16" y2="497.08" stroke="#000" stroke-width="1.44"/>
<line x1="364.71" y1="466.42" x2="370.71" y2="464.62" stroke="#000" stroke-width="1.44"/>
<ellipse cx="373.43" cy="480.85" rx="15.13" ry="17.22" fill="#fff" stroke="#000" stroke-width="1.44" transform="rotate(25 373.43 480.85)"/>
<ellipse cx="373.10" cy="481.07" rx="11.80" ry="13.43" fill="none" stroke="#000" stroke-width="1.08" transform="rotate(25 373.10 481.07)"/>
<ellipse cx="372.76" cy="481.30" rx="8.32" ry="9.47" fill="none" stroke="#000" stroke-width="1.08" transform="rotate(25 372.76 481.30)"/>
<ellipse cx="372.61" cy="481.40" rx="6.81" ry="7.75" fill="none" stroke="#000" stroke-width="1.08" transform="rotate(25 372.61 481.40)"/>
<ellipse cx="1014.03" cy="606.40" rx="15.04" ry="18.91" fill="#fff" stroke="#000" stroke-width="1.44" transform="rotate(25 1014.03 606.40)"/>
<polygon points="1015.39,624.06 1021.39,622.26 1018.68,586.94 1012.68,588.74" fill="#fff" stroke="none"/>
<line x1="1015.39" y1="624.06" x2="1021.39" y2="622.26" stroke="#000" stroke-width="1.44"/>
<line x1="1012.68" y1="588.74" x2="1018.68" y2="586.94" stroke="#000" stroke-width="1.44"/>
<ellipse cx="1020.03" cy="604.60" rx="15.04" ry="18.91" fill="#fff" stroke="#000" stroke-width="1.44" transform="rotate(25 1020.03 604.60)"/>
<ellipse cx="1019.70" cy="604.82" rx="11.73" ry="14.75" fill="none" stroke="#000" stroke-width="1.08" transform="rotate(25 1019.70 604.82)"/>
<ellipse cx="1019.36" cy="605.05" rx="8.27" ry="10.40" fill="none" stroke="#000" stroke-width="1.08" transform="rotate(25 1019.36 605.05)"/>
<ellipse cx="1019.21" cy="605.15" rx="6.77" ry="8.51" fill="none" stroke="#000" stroke-width="1.08" transform="rotate(25 1019.21 605.15)"/>
<ellipse cx="552.55" cy="840.90" rx="14.55" ry="18.43" fill="#fff" stroke="#000" stroke-width="1.44" transform="rotate(25 552.55 840.90)"/>
<polygon points="553.77,858.10 559.77,856.30 557.33,821.90 551.33,823.70" fill="#fff" stroke="none"/>
<line x1="553.77" y1="858.10" x2="559.77" y2="856.30" stroke="#000" stroke-width="1.44"/>
<line x1="551.33" y1="823.70" x2="557.33" y2="821.90" stroke="#000" stroke-width="1.44"/>
<ellipse cx="558.55" cy="839.10" rx="14.55" ry="18.43" fill="#fff" stroke="#000" stroke-width="1.44" transform="rotate(25 558.55 839.10)"/>
<ellipse cx="558.22" cy="839.32" rx="11.35" ry="14.38" fill="none" stroke="#000" stroke-width="1.08" transform="rotate(25 558.22 839.32)"/>
<ellipse cx="557.88" cy="839.55" rx="8.00" ry="10.14" fill="none" stroke="#000" stroke-width="1.08" transform="rotate(25 557.88 839.55)"/>
<ellipse cx="557.72" cy="839.65" rx="6.55" ry="8.29" fill="none" stroke="#000" stroke-width="1.08" transform="rotate(25 557.72 839.65)"/>
<ellipse cx="618.29" cy="877.15" rx="14.79" ry="18.19" fill="#fff" stroke="#000" stroke-width="1.44" transform="rotate(25 618.29 877.15)"/>
<polygon points="619.94,894.17 625.94,892.37 622.65,858.33 616.65,860.13" fill="#fff" stroke="none"/>
<line x1="619.94" y1="894.17" x2="625.94" y2="892.37" stroke="#000" stroke-width="1.44"/>
<line x1="616.65" y1="860.13" x2="622.65" y2="858.33" stroke="#000" stroke-width="1.44"/>
<ellipse cx="624.29" cy="875.35" rx="14.79" ry="18.19" fill="#fff" stroke="#000" stroke-width="1.44" transform="rotate(25 624.29 875.35)"/>
<ellipse cx="623.96" cy="875.57" rx="11.54" ry="14.19" fill="none" stroke="#000" stroke-width="1.08" transform="rotate(25 623.96 875.57)"/>
<ellipse cx="623.62" cy="875.80" rx="8.14" ry="10.00" fill="none" stroke="#000" stroke-width="1.08" transform="rotate(25 623.62 875.80)"/>
<ellipse cx="623.47" cy="875.90" rx="6.66" ry="8.18" fill="none" stroke="#000" stroke-width="1.08" transform="rotate(25 623.47 875.90)"/>
<ellipse cx="611.32" cy="372.95" rx="13.82" ry="18.19" fill="#fff" stroke="#000" stroke-width="1.44" transform="rotate(25 611.32 372.95)"/>
<polygon points="611.92,355.71 603.92,357.31 602.72,391.79 610.72,390.19" fill="#fff" stroke="none"/>
<line x1="611.92" y1="355.71" x2="603.92" y2="357.31" stroke="#000" stroke-width="1.44"/>
<line x1="610.72" y1="390.19" x2="602.72" y2="391.79" stroke="#000" stroke-width="1.44"/>
<ellipse cx="603.32" cy="374.55" rx="13.82" ry="18.19" fill="#fff" stroke="#000" stroke-width="1.44" transform="rotate(25 603.32 374.55)"/>
<ellipse cx="603.32" cy="374.55" rx="10.37" ry="13.64" fill="none" stroke="#000" stroke-width="1.08" transform="rotate(25 603.32 374.55)"/>
<ellipse cx="603.32" cy="374.55" rx="7.60" ry="10.00" fill="none" stroke="#000" stroke-width="1.08" transform="rotate(25 603.32 374.55)"/>
<ellipse cx="1022.20" cy="477.40" rx="9.70" ry="16.97" fill="#fff" stroke="#000" stroke-width="1.44" transform="rotate(12 1022.20 477.40)"/>
<polygon points="1023.36,460.80 1012.36,463.00 1010.04,496.20 1021.04,494.00" fill="#fff" stroke="none"/>
<line x1="1023.36" y1="460.80" x2="1012.36" y2="463.00" stroke="#000" stroke-width="1.44"/>
<line x1="1021.04" y1="494.00" x2="1010.04" y2="496.20" stroke="#000" stroke-width="1.44"/>
<ellipse cx="1011.20" cy="479.60" rx="9.70" ry="16.97" fill="#fff" stroke="#000" stroke-width="1.44" transform="rotate(12 1011.20 479.60)"/>
<ellipse cx="1011.20" cy="479.60" rx="7.27" ry="12.73" fill="none" stroke="#000" stroke-width="1.08" transform="rotate(12 1011.20 479.60)"/>
<ellipse cx="1011.20" cy="479.60" rx="5.82" ry="10.18" fill="none" stroke="#000" stroke-width="1.08" transform="rotate(12 1011.20 479.60)"/>
<ellipse cx="1333.94" cy="395.30" rx="9.94" ry="16.97" fill="#fff" stroke="#000" stroke-width="1.44" transform="rotate(12 1333.94 395.30)"/>
<polygon points="1334.98,378.69 1322.98,381.09 1320.90,414.31 1332.90,411.91" fill="#fff" stroke="none"/>
<line x1="1334.98" y1="378.69" x2="1322.98" y2="381.09" stroke="#000" stroke-width="1.44"/>
<line x1="1332.90" y1="411.91" x2="1320.90" y2="414.31" stroke="#000" stroke-width="1.44"/>
<ellipse cx="1321.94" cy="397.70" rx="9.94" ry="16.97" fill="#fff" stroke="#000" stroke-width="1.44" transform="rotate(12 1321.94 397.70)"/>
<ellipse cx="1321.94" cy="397.70" rx="7.76" ry="13.24" fill="none" stroke="#000" stroke-width="1.08" transform="rotate(12 1321.94 397.70)"/>
<ellipse cx="1321.94" cy="397.70" rx="5.97" ry="10.18" fill="none" stroke="#000" stroke-width="1.08" transform="rotate(12 1321.94 397.70)"/>
<ellipse cx="1378.65" cy="383.55" rx="11.15" ry="17.70" fill="#fff" stroke="#000" stroke-width="1.44" transform="rotate(15 1378.65 383.55)"/>
<polygon points="1379.82,366.37 1372.82,367.77 1370.49,402.13 1377.49,400.73" fill="#fff" stroke="none"/>
<line x1="1379.82" y1="366.37" x2="1372.82" y2="367.77" stroke="#000" stroke-width="1.44"/>
<line x1="1377.49" y1="400.73" x2="1370.49" y2="402.13" stroke="#000" stroke-width="1.44"/>
<ellipse cx="1371.65" cy="384.95" rx="11.15" ry="17.70" fill="#fff" stroke="#000" stroke-width="1.44" transform="rotate(15 1371.65 384.95)"/>
<ellipse cx="1371.65" cy="384.95" rx="7.81" ry="12.39" fill="none" stroke="#000" stroke-width="1.08" transform="rotate(15 1371.65 384.95)"/>
<ellipse cx="1371.65" cy="384.95" rx="5.02" ry="7.97" fill="none" stroke="#000" stroke-width="1.08" transform="rotate(15 1371.65 384.95)"/>
<path d="M118,363 C118,350 128,345 137,346 L155,346.7 L156,338.8 L162,338 L188,335.2 C200,332 209,331 221,333.7 L234,334.4 L298,327.2 C305,325 310,323 316,324 C325,326 331,333 331,345 C331,356 325,363 315,363.3 C290,366 270,372 255,380 C240,390 225,405 211,421 L172,424 L167.8,421 L153.3,415.3 L136,386.5 C125,383 118,375 118,363 Z" fill="#fff" stroke="#000" stroke-width="1.68" stroke-linejoin="round" stroke-linecap="round"/>
<path d="M156,341 L162,341 L188,338.5 C200,335.5 209,334.5 221,337 L234,337.6 L298,330.5 C305,328 311,327 317,328" fill="none" stroke="#000" stroke-width="1.32" stroke-linejoin="round" stroke-linecap="round"/>
<path d="M164.9,343.1 L214,337.3 L215.5,351.8 C222,360 226,368 225.6,380 C225,390 220,397 214,401 L214,421" fill="none" stroke="#000" stroke-width="1.56" stroke-linejoin="round" stroke-linecap="round"/>
<path d="M169.2,354.7 L169.2,421" fill="none" stroke="#000" stroke-width="1.56" stroke-linejoin="round" stroke-linecap="round"/>
<path d="M165,343 L165,360" fill="none" stroke="#000" stroke-width="1.32" stroke-linejoin="round" stroke-linecap="round"/>
<path d="M215.5,349 C225,351 232,351 240,350 L295,341.7 L293,349 C275,352 260,356 250,361 C240,367 233,375 225,385" fill="none" stroke="#000" stroke-width="1.44" stroke-linejoin="round" stroke-linecap="round"/>
<path d="M300,353.2 C280,356 265,360 254,366 C240,374 230,385 216,403" fill="none" stroke="#000" stroke-width="1.44" stroke-linejoin="round" stroke-linecap="round"/>
<ellipse cx="146.10" cy="371.30" rx="15.64" ry="17.00" fill="#fff" stroke="#000" stroke-width="1.20"/>
<ellipse cx="146.10" cy="371.30" rx="13.98" ry="15.20" fill="none" stroke="#000" stroke-width="1.68"/>
<ellipse cx="146.10" cy="371.30" rx="11.50" ry="12.50" fill="none" stroke="#000" stroke-width="1.20"/>
<ellipse cx="146.10" cy="371.30" rx="5.52" ry="6.00" fill="none" stroke="#000" stroke-width="1.92"/>
<ellipse cx="149.00" cy="372.00" rx="3.00" ry="3.00" fill="none" stroke="#000" stroke-width="1.44"/>
<ellipse cx="320.00" cy="346.00" rx="13.00" ry="16.00" fill="#fff" stroke="#000" stroke-width="1.68" transform="rotate(15 320.00 346.00)"/>
<ellipse cx="321.50" cy="347.50" rx="10.00" ry="12.50" fill="none" stroke="#000" stroke-width="1.32" transform="rotate(15 321.50 347.50)"/>
<ellipse cx="322.00" cy="348.50" rx="5.00" ry="5.50" fill="none" stroke="#000" stroke-width="1.56"/>
<ellipse cx="324.00" cy="349.00" rx="2.50" ry="2.50" fill="none" stroke="#000" stroke-width="1.32"/>
<ellipse cx="196.70" cy="383.60" rx="12.30" ry="14.40" fill="#fff" stroke="#000" stroke-width="1.68" transform="rotate(15 196.70 383.60)"/>
<path d="M205,372 C209,378 209,388 204,394 C200,397 194,398 190,396" fill="none" stroke="#000" stroke-width="1.44" stroke-linejoin="round" stroke-linecap="round"/>
<path d="M211.5,344.7 A2.3,2.3 0 1 0 211.7,348.2" fill="none" stroke="#000" stroke-width="1.32" stroke-linejoin="round" stroke-linecap="round"/>
<path d="M178.3,357.7 A2.3,2.3 0 1 0 178.5,361.2" fill="none" stroke="#000" stroke-width="1.32" stroke-linejoin="round" stroke-linecap="round"/>
<path d="M176.8,416.2 A2.3,2.3 0 1 0 177,419.7" fill="none" stroke="#000" stroke-width="1.32" stroke-linejoin="round" stroke-linecap="round"/>
<path d="M210.0,412.6 A2.3,2.3 0 1 0 210.2,416.1" fill="none" stroke="#000" stroke-width="1.32" stroke-linejoin="round" stroke-linecap="round"/>
<path d="M148,397 L160,402 L157,392" fill="none" stroke="#000" stroke-width="1.32" stroke-linejoin="round" stroke-linecap="round"/>
<path d="M140,386 L158,414" fill="none" stroke="#000" stroke-width="1.20" stroke-linejoin="round" stroke-linecap="round"/>
<path d="M356.9,704.9 L466.3,769.2 L453.3,798.6 L333.3,732 Z" fill="#fff" stroke="#000" stroke-width="0.00" stroke-linejoin="round" stroke-linecap="round"/>
<path d="M356.9,704.9 L466.3,769.2" fill="none" stroke="#000" stroke-width="1.68" stroke-linejoin="round" stroke-linecap="round"/>
<path d="M333.3,732 L453.3,798.6" fill="none" stroke="#000" stroke-width="1.68" stroke-linejoin="round" stroke-linecap="round"/>
<path d="M462,773.5 C458,770 462,767 466.3,769.2 C475,770 482,769 490.5,759.7 C494,755 500,756 500.9,762.3 C503,775 506,790 504.3,800 C503,810 500,818 500.9,824.5 C501,831 496,832 494,830.6 C489,826 485,825 478,828 C474,830 472,834 466.3,833 C461,832 460,829 461.1,827.1 C463,815 465,805 464.6,801.2 C464,792 461,785 462,773.5 Z" fill="#fff" stroke="#000" stroke-width="1.68" stroke-linejoin="round" stroke-linecap="round"/>
<path d="M461,775 C455,782 452,795 455,806 C457,812 460,816 461,818" fill="none" stroke="#000" stroke-width="1.44" stroke-linejoin="round" stroke-linecap="round"/>
<path d="M458,779 C453,788 452,798 456,808" fill="none" stroke="#000" stroke-width="1.20" stroke-linejoin="round" stroke-linecap="round"/>
<path d="M465,772 C463,785 466,800 464,812" fill="none" stroke="#000" stroke-width="1.20" stroke-linejoin="round" stroke-linecap="round"/>
<ellipse cx="483.60" cy="797.70" rx="10.50" ry="14.50" fill="#fff" stroke="#000" stroke-width="1.68" transform="rotate(25 483.60 797.70)"/>
<path d="M489,784 C494,788 496,797 493,806 C490,812 484,815 478,813" fill="none" stroke="#000" stroke-width="1.44" stroke-linejoin="round" stroke-linecap="round"/>
<path d="M491,786 C497,790 499,799 497,805" fill="none" stroke="#000" stroke-width="1.20" stroke-linejoin="round" stroke-linecap="round"/>
<path d="M471.8,776.3 A2.6,2.6 0 1 0 472.0,780.0999999999999" fill="none" stroke="#000" stroke-width="1.32" stroke-linejoin="round" stroke-linecap="round"/>
<path d="M497.7,764.2 A2.6,2.6 0 1 0 497.9,768.0" fill="none" stroke="#000" stroke-width="1.32" stroke-linejoin="round" stroke-linecap="round"/>
<path d="M470.9,826 A2.6,2.6 0 1 0 471.09999999999997,829.8" fill="none" stroke="#000" stroke-width="1.32" stroke-linejoin="round" stroke-linecap="round"/>
<path d="M497.7,823.4 A2.6,2.6 0 1 0 497.9,827.1999999999999" fill="none" stroke="#000" stroke-width="1.32" stroke-linejoin="round" stroke-linecap="round"/>
<path d="M281.2,637.5 C275,639 270,640 265.9,640.4 C258,642 254,644 250.5,645.7 C244,649 241,651 238.7,654 C235,659 233,663 231.6,667 C229,676 229,681 229.2,686 C229,695 229,700 229.8,704.9 C231,710 232,713 234.5,716.7 C238,720 241,722 244.6,723.8 C250,727 255,729 260,730.9 C266,733 270,735 274.1,736.2 C279,737 284,737 288.3,736.8 C300,735 312,731 321.4,728.5 L340,700 L349.2,694.2 C348,680 345,668 342.7,668.2 C340,660 337,655 333.3,650.5 C330,645 325,640 321.4,636.3 C316,631 312,628 307.2,626.8 C302,626 298,626 295.4,626.8 C290,629 285,633 281.2,637.5 Z" fill="#fff" stroke="#000" stroke-width="1.68" stroke-linejoin="round" stroke-linecap="round"/>
<path d="M284,638 C288,633 292,630 296,629.5 L306,629.5 C311,631 315,634 319,638 C324,643 328,648 331,653 C335,660 338,666 340,672 C343,680 345,688 346,695" fill="none" stroke="#000" stroke-width="1.32" stroke-linejoin="round" stroke-linecap="round"/>
<path d="M281.2,637.5 C283,633 285,631 287,630" fill="none" stroke="#000" stroke-width="1.92" stroke-linejoin="round" stroke-linecap="round"/>
<polygon points="283.00,631.50 288.00,630.00 290.00,635.50 285.00,637.00" fill="#fff" stroke="#000" stroke-width="1.20" stroke-linejoin="round"/>
<polygon points="312.50,640.90 317.50,639.40 319.50,644.90 314.50,646.40" fill="#fff" stroke="#000" stroke-width="1.20" stroke-linejoin="round"/>
<polygon points="325.50,663.40 330.50,661.90 332.50,667.40 327.50,668.90" fill="#fff" stroke="#000" stroke-width="1.20" stroke-linejoin="round"/>
<polygon points="333.80,685.80 338.80,684.30 340.80,689.80 335.80,691.30" fill="#fff" stroke="#000" stroke-width="1.20" stroke-linejoin="round"/>
<path d="M246,664 C240,672 236,678 234,686" fill="none" stroke="#000" stroke-width="1.20" stroke-linejoin="round" stroke-linecap="round"/>
<path d="M263.5,671.2 C256,680 249,688 246.9,695 C244,703 244,710 245,713 C246,718 248,720 250.5,721.4 C254,725 258,727 262.3,728.5 C268,731 275,732 281.2,732 C283,722 284,712 283,704.9 C282,695 279,688 276.5,682.4 C272,676 267,674 263.5,671.2 Z" fill="#fff" stroke="#000" stroke-width="1.56" stroke-linejoin="round" stroke-linecap="round"/>
<path d="M261.7,677.7 L261.7,728.5" fill="none" stroke="#000" stroke-width="1.20" stroke-linejoin="round" stroke-linecap="round"/>
<ellipse cx="271.80" cy="715.50" rx="5.50" ry="7.50" fill="none" stroke="#000" stroke-width="1.56" transform="rotate(10 271.80 715.50)"/>
<path d="M273,711.5 C270,711 268,713 268.5,716 C269,719 272,720 274,719" fill="none" stroke="#000" stroke-width="1.44" stroke-linejoin="round" stroke-linecap="round"/>
<path d="M284.8,695.4 C286,692 288,690 291,689.5 L326.2,683.6" fill="none" stroke="#000" stroke-width="1.44" stroke-linejoin="round" stroke-linecap="round"/>
<path d="M321.4,688.3 C314,692 309,700 307.2,709.6" fill="none" stroke="#000" stroke-width="1.32" stroke-linejoin="round" stroke-linecap="round"/>
<polygon points="284.20,708.40 320.30,713.20 320.30,716.50 284.20,711.60" fill="#fff" stroke="#000" stroke-width="1.32" stroke-linejoin="round"/>
<polygon points="284.20,719.00 320.30,723.80 320.30,727.00 284.20,722.20" fill="#fff" stroke="#000" stroke-width="1.32" stroke-linejoin="round"/>
<path d="M290.7,729.7 L319,723.8" fill="none" stroke="#000" stroke-width="1.20" stroke-linejoin="round" stroke-linecap="round"/>
<ellipse cx="341.00" cy="714.00" rx="14.50" ry="20.00" fill="#fff" stroke="#000" stroke-width="1.68" transform="rotate(-20 341.00 714.00)"/>
<ellipse cx="343.50" cy="715.00" rx="12.50" ry="18.00" fill="none" stroke="#000" stroke-width="1.32" transform="rotate(-20 343.50 715.00)"/>
<path d="M352,697 C340,700 333,712 336,728" fill="none" stroke="#000" stroke-width="1.20" stroke-linejoin="round" stroke-linecap="round"/>
<path d="M356.9,704.9 C345,708 340,720 346,735" fill="none" stroke="#000" stroke-width="1.56" stroke-linejoin="round" stroke-linecap="round"/>
<path d="M673.8,905.3 C665,906 657,914 656.4,922.7 C656,932 662,940 669.4,942.9 C675,945 680,945.5 683.9,945.8 L702.7,948.7 C705,950 707,951 708.5,953 C712,956 715,959 717.1,961.7 C721,968 724,975 727.2,981.9 L735.9,999.2 C737,1001 739,1003 741.7,1003.6 L789.4,997.8 C800,986 815,968 832.7,948.7 C836,940 838,930 839.9,919.8 L851.5,921.2 C857,922 862,920 866,916 C870,911 871,902 868.8,893.8 C865,886 857,881 850,881 C846,881 844,881.5 842.8,882.2 C836,885 831,890 828.4,896.7 C827,903 826,906 825.5,908.2 C820,912 813,913.5 808.1,914 C800,913 792,912.5 785,912.6 C770,914 750,920 735.9,921.2 C725,920 712,914 702.7,911.1 C692,907 682,905 673.8,905.3 Z" fill="#fff" stroke="#000" stroke-width="1.68" stroke-linejoin="round" stroke-linecap="round"/>
<path d="M683.9,909.5 C700,912 720,920 735.9,924.5 C755,924 775,916 792.2,916.5 C805,917 815,915 825.5,911.5" fill="none" stroke="#000" stroke-width="1.32" stroke-linejoin="round" stroke-linecap="round"/>
<ellipse cx="685.30" cy="929.90" rx="14.52" ry="16.50" fill="#fff" stroke="#000" stroke-width="1.20" transform="rotate(10 685.30 929.90)"/>
<ellipse cx="685.30" cy="929.90" rx="12.76" ry="14.50" fill="none" stroke="#000" stroke-width="1.68" transform="rotate(10 685.30 929.90)"/>
<ellipse cx="685.30" cy="929.90" rx="10.56" ry="12.00" fill="none" stroke="#000" stroke-width="1.20" transform="rotate(10 685.30 929.90)"/>
<ellipse cx="685.30" cy="929.90" rx="7.04" ry="8.00" fill="none" stroke="#000" stroke-width="1.56" transform="rotate(10 685.30 929.90)"/>
<ellipse cx="687.00" cy="931.00" rx="3.50" ry="3.50" fill="none" stroke="#000" stroke-width="1.44"/>
<path d="M695.5,922.7 L735.9,934.2 L740.2,976.1 C738,978 736,976 735.9,975" fill="none" stroke="#000" stroke-width="1.44" stroke-linejoin="round" stroke-linecap="round"/>
<path d="M735.9,925 L735.9,995" fill="none" stroke="#000" stroke-width="1.56" stroke-linejoin="round" stroke-linecap="round"/>
<path d="M695.5,932.8 C705,936 712,940 717.1,944.3 C725,952 731,963 735.9,974.7" fill="none" stroke="#000" stroke-width="1.32" stroke-linejoin="round" stroke-linecap="round"/>
<ellipse cx="769.90" cy="962.40" rx="11.60" ry="14.40" fill="#fff" stroke="#000" stroke-width="1.68" transform="rotate(25 769.90 962.40)"/>
<path d="M777,951 C781,955 782,965 778,972 C775,976 770,978 765,977" fill="none" stroke="#000" stroke-width="1.32" stroke-linejoin="round" stroke-linecap="round"/>
<path d="M782.5,922.8 A2.3,2.3 0 1 0 782.7,926.3" fill="none" stroke="#000" stroke-width="1.32" stroke-linejoin="round" stroke-linecap="round"/>
<path d="M750.6999999999999,937.3 A2.3,2.3 0 1 0 750.9,940.8" fill="none" stroke="#000" stroke-width="1.32" stroke-linejoin="round" stroke-linecap="round"/>
<path d="M750.6999999999999,995.8 A2.3,2.3 0 1 0 750.9,999.3" fill="none" stroke="#000" stroke-width="1.32" stroke-linejoin="round" stroke-linecap="round"/>
<path d="M782.5,991.5 A2.3,2.3 0 1 0 782.7,995.0" fill="none" stroke="#000" stroke-width="1.32" stroke-linejoin="round" stroke-linecap="round"/>
<path d="M789.4,929.9 C805,925 820,922 834.1,919.8 L832.7,944.3 L798,967.5 C798,955 795,940 789.4,929.9 Z" fill="#fff" stroke="#000" stroke-width="1.44" stroke-linejoin="round" stroke-linecap="round"/>
<path d="M834.1,919.8 C834,910 834,900 834.1,893.8" fill="none" stroke="#000" stroke-width="1.32" stroke-linejoin="round" stroke-linecap="round"/>
<ellipse cx="856.50" cy="907.00" rx="13.50" ry="16.00" fill="#fff" stroke="#000" stroke-width="1.92" transform="rotate(15 856.50 907.00)"/>
<ellipse cx="857.50" cy="908.00" rx="11.00" ry="13.50" fill="none" stroke="#000" stroke-width="1.20" transform="rotate(15 857.50 908.00)"/>
<ellipse cx="858.50" cy="908.50" rx="8.50" ry="10.50" fill="none" stroke="#000" stroke-width="1.68" transform="rotate(15 858.50 908.50)"/>
<ellipse cx="859.50" cy="909.00" rx="4.50" ry="5.00" fill="none" stroke="#000" stroke-width="1.56"/>
<ellipse cx="860.50" cy="909.50" rx="2.00" ry="2.30" fill="none" stroke="#000" stroke-width="1.20"/>
<path d="M 1050.1,422.7 L 1074.0,416.4 L 1095.3,411.4 C 1096.6,406.4 1098.5,403.8 1100.4,402.6 C 1105.4,397.6 1111.7,394.4 1117.9,393.8 C 1125.5,394.4 1131.8,398.8 1136.8,403.8 L 1143.1,405.1 L 1192.1,411.4 L 1205.9,408.9 C 1210.9,411.4 1214.7,414.5 1215.9,417.7 C 1219.1,422.7 1221.0,426.5 1221.0,429.0 L 1221.0,440.3 L 1215.9,444.0 L 1193.3,465.4 L 1155.6,504.3 C 1150.6,507.5 1143.1,509.4 1134.3,509.4 L 1117.9,501.8 L 1100.4,505.6 L 1090.3,501.8 L 1089.0,491.8 L 1081.5,485.5 L 1057.6,490.5 L 1048.8,480.5 L 1048.8,474.2 L 1040.1,466.7 L 1040.1,445.3 L 1042.6,437.8 Z" fill="#fff" stroke="#000" stroke-width="1.80" stroke-linejoin="round" stroke-linecap="round"/>
<path d="M 1140.6,405.1 C 1155.6,407.6 1174.5,410.1 1192.1,411.4 C 1200.9,417.7 1208.4,426.5 1210.9,437.8" fill="none" stroke="#000" stroke-width="1.44" stroke-linejoin="round" stroke-linecap="round"/>
<path d="M 1192.1,411.4 C 1197.1,420.2 1200.9,430.2 1202.1,441.5" fill="none" stroke="#000" stroke-width="1.32" stroke-linejoin="round" stroke-linecap="round"/>
<path d="M 1165.7,410.1 C 1174.5,417.7 1179.5,426.5 1182.0,435.3" fill="none" stroke="#000" stroke-width="1.20" stroke-linejoin="round" stroke-linecap="round"/>
<path d="M 1164.4,472.9 L 1214.7,440.3" fill="none" stroke="#000" stroke-width="1.32" stroke-linejoin="round" stroke-linecap="round"/>
<path d="M 1165.7,476.7 L 1214.7,442.8" fill="none" stroke="#000" stroke-width="1.20" stroke-linejoin="round" stroke-linecap="round"/>
<path d="M 1161.9,490.5 L 1215.9,444.0" fill="none" stroke="#000" stroke-width="1.32" stroke-linejoin="round" stroke-linecap="round"/>
<path d="M 1163.2,493.0 L 1215.9,446.6" fill="none" stroke="#000" stroke-width="1.20" stroke-linejoin="round" stroke-linecap="round"/>
<path d="M 1180.8,457.9 L 1180.8,445.3 L 1197.1,432.7" fill="none" stroke="#000" stroke-width="1.20" stroke-linejoin="round" stroke-linecap="round"/>
<path d="M 1100.4,402.6 C 1117.9,396.3 1133.0,403.8 1143.1,420.2 C 1153.1,437.8 1156.9,460.4 1155.6,483.0 C 1154.4,495.6 1148.1,505.6 1134.3,509.4" fill="none" stroke="#000" stroke-width="1.56" stroke-linejoin="round" stroke-linecap="round"/>
<path d="M 1105.4,406.4 C 1120.5,401.3 1133.0,408.9 1140.6,422.7 C 1149.3,439.0 1153.1,460.4 1151.9,481.7 C 1150.6,493.0 1145.6,501.8 1134.3,505.6" fill="none" stroke="#000" stroke-width="1.32" stroke-linejoin="round" stroke-linecap="round"/>
<path d="M 1143.1,435.3 L 1143.1,499.3" fill="none" stroke="#000" stroke-width="1.68" stroke-linejoin="round" stroke-linecap="round"/>
<ellipse cx="1102.86" cy="403.84" rx="1.60" ry="2.00" fill="none" stroke="#000" stroke-width="1.20"/>
<ellipse cx="1115.43" cy="400.08" rx="1.60" ry="2.00" fill="none" stroke="#000" stroke-width="1.20"/>
<ellipse cx="1129.87" cy="406.98" rx="1.60" ry="2.00" fill="none" stroke="#000" stroke-width="1.20"/>
<ellipse cx="1143.07" cy="422.06" rx="1.60" ry="2.00" fill="none" stroke="#000" stroke-width="1.20"/>
<ellipse cx="1151.86" cy="445.30" rx="1.60" ry="2.00" fill="none" stroke="#000" stroke-width="1.20"/>
<ellipse cx="1155.63" cy="471.68" rx="1.60" ry="2.00" fill="none" stroke="#000" stroke-width="1.20"/>
<ellipse cx="1149.35" cy="496.81" rx="1.60" ry="2.00" fill="none" stroke="#000" stroke-width="1.20"/>
<ellipse cx="1129.25" cy="504.35" rx="1.60" ry="2.00" fill="none" stroke="#000" stroke-width="1.20"/>
<path d="M 1050.1,422.7 L 1057.6,425.2 L 1057.6,440.3 L 1050.1,439.0 Z" fill="none" stroke="#000" stroke-width="1.44" stroke-linejoin="round" stroke-linecap="round"/>
<path d="M 1057.6,425.2 L 1076.5,421.4 L 1096.6,416.4 L 1117.9,412.6 C 1125.5,412.6 1131.8,418.9 1130.5,426.5 C 1129.2,430.2 1123.0,431.5 1115.4,434.0 L 1090.3,439.0" fill="none" stroke="#000" stroke-width="1.44" stroke-linejoin="round" stroke-linecap="round"/>
<path d="M 1057.6,440.3 L 1076.5,435.3 L 1095.3,427.7 L 1105.4,426.5 C 1111.7,425.8 1120.5,426.5 1124.2,427.7" fill="none" stroke="#000" stroke-width="1.32" stroke-linejoin="round" stroke-linecap="round"/>
<path d="M 1076.5,421.4 L 1076.5,483.0" fill="none" stroke="#000" stroke-width="1.56" stroke-linejoin="round" stroke-linecap="round"/>
<ellipse cx="1052.61" cy="432.74" rx="1.80" ry="2.40" fill="none" stroke="#000" stroke-width="1.20"/>
<path d="M 1048.8,440.3 C 1042.6,445.3 1041.3,457.9 1043.8,466.7" fill="none" stroke="#000" stroke-width="1.44" stroke-linejoin="round" stroke-linecap="round"/>
<path d="M 1046.3,439.0 C 1040.1,445.3 1038.8,457.9 1042.6,467.9" fill="none" stroke="#000" stroke-width="1.20" stroke-linejoin="round" stroke-linecap="round"/>
<path d="M 1052.0,440.9 C 1046.3,447.8 1045.1,459.1 1047.6,467.9" fill="none" stroke="#000" stroke-width="1.20" stroke-linejoin="round" stroke-linecap="round"/>
<path d="M 1076.5,440.3 C 1067.7,440.3 1061.4,447.8 1061.4,456.6 C 1061.4,462.9 1065.2,467.9 1071.5,469.2" fill="none" stroke="#000" stroke-width="1.32" stroke-linejoin="round" stroke-linecap="round"/>
<path d="M 1080.3,441.5 C 1085.3,447.8 1085.3,460.4 1081.5,466.7" fill="none" stroke="#000" stroke-width="1.20" stroke-linejoin="round" stroke-linecap="round"/>
<path d="M 1048.8,474.2 L 1081.5,467.9 L 1081.5,485.5" fill="none" stroke="#000" stroke-width="1.20" stroke-linejoin="round" stroke-linecap="round"/>
<path d="M 1048.8,480.5 L 1050.1,475.5 L 1057.6,476.7 L 1057.6,490.5" fill="none" stroke="#000" stroke-width="1.32" stroke-linejoin="round" stroke-linecap="round"/>
<ellipse cx="1053.87" cy="481.73" rx="1.80" ry="2.40" fill="none" stroke="#000" stroke-width="1.20"/>
<path d="M 1090.3,439.0 L 1117.9,432.7 L 1136.8,436.5" fill="none" stroke="#000" stroke-width="1.44" stroke-linejoin="round" stroke-linecap="round"/>
<path d="M 1090.3,439.0 L 1097.8,442.8 L 1097.8,455.4 L 1090.3,452.8 Z" fill="none" stroke="#000" stroke-width="1.44" stroke-linejoin="round" stroke-linecap="round"/>
<path d="M 1097.8,442.8 L 1117.9,437.8 L 1138.0,436.5" fill="none" stroke="#000" stroke-width="1.32" stroke-linejoin="round" stroke-linecap="round"/>
<path d="M 1117.9,437.8 L 1117.9,505.6" fill="none" stroke="#000" stroke-width="1.56" stroke-linejoin="round" stroke-linecap="round"/>
<ellipse cx="1094.07" cy="447.81" rx="1.80" ry="2.40" fill="none" stroke="#000" stroke-width="1.20"/>
<path d="M 1087.8,452.8 C 1081.5,460.4 1081.5,480.5 1087.8,490.5" fill="none" stroke="#000" stroke-width="1.32" stroke-linejoin="round" stroke-linecap="round"/>
<path d="M 1092.8,453.5 C 1085.9,461.6 1085.9,480.5 1092.8,491.8" fill="none" stroke="#000" stroke-width="1.20" stroke-linejoin="round" stroke-linecap="round"/>
<path d="M 1097.8,455.4 C 1090.3,462.9 1090.3,480.5 1097.8,493.0" fill="none" stroke="#000" stroke-width="1.20" stroke-linejoin="round" stroke-linecap="round"/>
<ellipse cx="1115.43" cy="470.43" rx="13.80" ry="15.70" fill="#fff" stroke="#000" stroke-width="1.68" transform="rotate(20 1115.43 470.43)"/>
<path d="M 1125.5,460.4 C 1130.5,467.9 1129.2,480.5 1117.9,484.2 C 1112.9,485.5 1107.9,484.2 1105.4,481.7" fill="none" stroke="#000" stroke-width="1.32" stroke-linejoin="round" stroke-linecap="round"/>
<path d="M 1089.0,491.8 L 1097.8,493.0 L 1097.8,505.6 L 1090.3,501.8 Z" fill="none" stroke="#000" stroke-width="1.32" stroke-linejoin="round" stroke-linecap="round"/>
<path d="M 1097.8,494.3 L 1117.9,498.1 L 1140.6,498.1" fill="none" stroke="#000" stroke-width="1.20" stroke-linejoin="round" stroke-linecap="round"/>
<ellipse cx="1094.70" cy="497.44" rx="1.80" ry="2.40" fill="none" stroke="#000" stroke-width="1.20"/>
<ellipse cx="1290.00" cy="408.00" rx="6.50" ry="10.50" fill="#fff" stroke="#000" stroke-width="1.44" transform="rotate(10 1290.00 408.00)"/>
<polygon points="1290.15,397.71 1279.15,400.21 1278.85,420.79 1289.85,418.29" fill="#fff" stroke="none"/>
<line x1="1290.15" y1="397.71" x2="1279.15" y2="400.21" stroke="#000" stroke-width="1.44"/>
<line x1="1289.85" y1="418.29" x2="1278.85" y2="420.79" stroke="#000" stroke-width="1.44"/>
<ellipse cx="1279.00" cy="410.50" rx="6.50" ry="10.50" fill="#fff" stroke="#000" stroke-width="1.44" transform="rotate(10 1279.00 410.50)"/>
<path d="M1283,399 C1287,402 1288,415 1284,420" fill="none" stroke="#000" stroke-width="1.20" stroke-linejoin="round" stroke-linecap="round"/>
<path d="M1287,398.5 C1291,402 1292,415 1288,420.5" fill="none" stroke="#000" stroke-width="1.20" stroke-linejoin="round" stroke-linecap="round"/>
<ellipse cx="1279.00" cy="410.50" rx="3.50" ry="6.00" fill="none" stroke="#000" stroke-width="1.20" transform="rotate(10 1279.00 410.50)"/>
<ellipse cx="1279.50" cy="410.50" rx="1.80" ry="3.50" fill="none" stroke="#000" stroke-width="1.08" transform="rotate(10 1279.50 410.50)"/>
<ellipse cx="1419.00" cy="371.50" rx="12.50" ry="22.50" fill="#fff" stroke="#000" stroke-width="1.56" transform="rotate(12 1419.00 371.50)"/>
<ellipse cx="1420.00" cy="371.00" rx="10.50" ry="19.00" fill="none" stroke="#000" stroke-width="1.20" transform="rotate(12 1420.00 371.00)"/>
<ellipse cx="1425.00" cy="368.00" rx="7.50" ry="12.50" fill="#fff" stroke="#000" stroke-width="1.44" transform="rotate(12 1425.00 368.00)"/>
<polygon points="1425.01,355.95 1419.01,357.95 1418.99,382.05 1424.99,380.05" fill="#fff" stroke="none"/>
<line x1="1425.01" y1="355.95" x2="1419.01" y2="357.95" stroke="#000" stroke-width="1.44"/>
<line x1="1424.99" y1="380.05" x2="1418.99" y2="382.05" stroke="#000" stroke-width="1.44"/>
<ellipse cx="1419.00" cy="370.00" rx="7.50" ry="12.50" fill="#fff" stroke="#000" stroke-width="1.44" transform="rotate(12 1419.00 370.00)"/>
<ellipse cx="1419.00" cy="370.00" rx="5.00" ry="9.00" fill="none" stroke="#000" stroke-width="1.20" transform="rotate(12 1419.00 370.00)"/>
<ellipse cx="1491.00" cy="353.50" rx="15.50" ry="26.00" fill="#fff" stroke="#000" stroke-width="1.44" transform="rotate(12 1491.00 353.50)"/>
<polygon points="1492.46,328.07 1489.96,328.57 1487.04,379.43 1489.54,378.93" fill="#fff" stroke="none"/>
<line x1="1492.46" y1="328.07" x2="1489.96" y2="328.57" stroke="#000" stroke-width="1.44"/>
<line x1="1489.54" y1="378.93" x2="1487.04" y2="379.43" stroke="#000" stroke-width="1.44"/>
<ellipse cx="1488.50" cy="354.00" rx="15.50" ry="26.00" fill="#fff" stroke="#000" stroke-width="1.44" transform="rotate(12 1488.50 354.00)"/>
<ellipse cx="1486.00" cy="354.50" rx="12.50" ry="22.50" fill="none" stroke="#000" stroke-width="1.32" transform="rotate(12 1486.00 354.50)"/>
<rect x="1476.0" y="334.2" width="3" height="3.6" fill="#000"/>
<rect x="1488.5" y="328.7" width="3" height="3.6" fill="#000"/>
<rect x="1496.0" y="351.2" width="3" height="3.6" fill="#000"/>
<rect x="1490.5" y="375.2" width="3" height="3.6" fill="#000"/>
<rect x="1479.5" y="376.2" width="3" height="3.6" fill="#000"/>
<ellipse cx="1484.00" cy="356.00" rx="9.50" ry="16.50" fill="#fff" stroke="#000" stroke-width="1.44" transform="rotate(12 1484.00 356.00)"/>
<polygon points="1485.86,339.76 1471.86,340.76 1468.14,373.24 1482.14,372.24" fill="#fff" stroke="none"/>
<line x1="1485.86" y1="339.76" x2="1471.86" y2="340.76" stroke="#000" stroke-width="1.44"/>
<line x1="1482.14" y1="372.24" x2="1468.14" y2="373.24" stroke="#000" stroke-width="1.44"/>
<ellipse cx="1470.00" cy="357.00" rx="9.50" ry="16.50" fill="#fff" stroke="#000" stroke-width="1.44" transform="rotate(12 1470.00 357.00)"/>
<path d="M1474,341.5 C1479,347 1480,364 1475,372.5" fill="none" stroke="#000" stroke-width="1.20" stroke-linejoin="round" stroke-linecap="round"/>
<ellipse cx="1470.00" cy="358.50" rx="7.00" ry="13.00" fill="#fff" stroke="#000" stroke-width="1.44" transform="rotate(12 1470.00 358.50)"/>
<polygon points="1471.50,345.72 1461.50,346.72 1458.50,372.28 1468.50,371.28" fill="#fff" stroke="none"/>
<line x1="1471.50" y1="345.72" x2="1461.50" y2="346.72" stroke="#000" stroke-width="1.44"/>
<line x1="1468.50" y1="371.28" x2="1458.50" y2="372.28" stroke="#000" stroke-width="1.44"/>
<ellipse cx="1460.00" cy="359.50" rx="7.00" ry="13.00" fill="#fff" stroke="#000" stroke-width="1.44" transform="rotate(12 1460.00 359.50)"/>
<ellipse cx="1460.00" cy="361.00" rx="5.50" ry="10.00" fill="#fff" stroke="#000" stroke-width="1.44" transform="rotate(12 1460.00 361.00)"/>
<polygon points="1460.78,351.22 1455.78,352.22 1454.22,371.78 1459.22,370.78" fill="#fff" stroke="none"/>
<line x1="1460.78" y1="351.22" x2="1455.78" y2="352.22" stroke="#000" stroke-width="1.44"/>
<line x1="1459.22" y1="370.78" x2="1454.22" y2="371.78" stroke="#000" stroke-width="1.44"/>
<ellipse cx="1455.00" cy="362.00" rx="5.50" ry="10.00" fill="#fff" stroke="#000" stroke-width="1.44" transform="rotate(12 1455.00 362.00)"/>
<ellipse cx="1455.00" cy="362.00" rx="3.80" ry="7.00" fill="none" stroke="#000" stroke-width="1.20" transform="rotate(12 1455.00 362.00)"/>
<path d="M1452.5,358 L1456,356 M1452,364 L1457,365" fill="none" stroke="#000" stroke-width="1.08" stroke-linejoin="round" stroke-linecap="round"/>
<polygon points="1520.00,335.00 1530.00,334.50 1535.00,340.00 1534.50,350.00 1530.00,355.50 1520.00,355.50" fill="#fff" stroke="#000" stroke-width="1.56" stroke-linejoin="round"/>
<polygon points="1516.00,335.50 1521.00,334.50 1525.00,340.00 1525.00,350.00 1521.00,356.00 1516.00,355.60 1512.00,350.00 1512.00,340.00" fill="#fff" stroke="#000" stroke-width="1.56" stroke-linejoin="round"/>
<path d="M1525,345 L1534.5,345 M1521,334.5 L1530,334.5" fill="none" stroke="#000" stroke-width="1.20" stroke-linejoin="round" stroke-linecap="round"/>
<ellipse cx="1518.50" cy="346.00" rx="3.00" ry="5.00" fill="none" stroke="#000" stroke-width="1.44" transform="rotate(10 1518.50 346.00)"/>
<ellipse cx="721.00" cy="436.00" rx="32.00" ry="36.50" fill="#fff" stroke="#000" stroke-width="1.80" transform="rotate(25 721.00 436.00)"/>
<path d="M692,425 C697,410 708,401 722,398" fill="none" stroke="#000" stroke-width="1.32" stroke-linejoin="round" stroke-linecap="round"/>
<path d="M690,430 C694,414 704,404 718,399" fill="none" stroke="#000" stroke-width="1.32" stroke-linejoin="round" stroke-linecap="round"/>
<polygon points="691.00,420.00 694.00,414.00 696.00,418.00 693.00,424.00" fill="#fff" stroke="#000" stroke-width="1.20" stroke-linejoin="round"/>
<polygon points="721.00,397.00 727.00,396.00 727.00,399.00 721.00,400.00" fill="#000" stroke="#000" stroke-width="0.96" stroke-linejoin="round"/>
<path d="M716.5999999999999,409.2 A2.3,2.3 0 1 0 716.8,412.7" fill="none" stroke="#000" stroke-width="1.32" stroke-linejoin="round" stroke-linecap="round"/>
<path d="M704.1999999999999,422.4 A2.3,2.3 0 1 0 704.4,425.9" fill="none" stroke="#000" stroke-width="1.32" stroke-linejoin="round" stroke-linecap="round"/>
<path d="M698.8,439.4 A2.3,2.3 0 1 0 699,442.9" fill="none" stroke="#000" stroke-width="1.32" stroke-linejoin="round" stroke-linecap="round"/>
<path d="M703.5,458 A2.3,2.3 0 1 0 703.7,461.5" fill="none" stroke="#000" stroke-width="1.32" stroke-linejoin="round" stroke-linecap="round"/>
<path d="M718.9,463.4 A2.3,2.3 0 1 0 719.1,466.9" fill="none" stroke="#000" stroke-width="1.32" stroke-linejoin="round" stroke-linecap="round"/>
<path d="M747.5,416.2 A2.3,2.3 0 1 0 747.7,419.7" fill="none" stroke="#000" stroke-width="1.32" stroke-linejoin="round" stroke-linecap="round"/>
<path d="M735.1999999999999,404.6 A2.3,2.3 0 1 0 735.4,408.1" fill="none" stroke="#000" stroke-width="1.32" stroke-linejoin="round" stroke-linecap="round"/>
<path d="M705,434 C710,430 716,431 728,440 L730,461 L727,464 C720,460 713,457 709,456 C705,450 704,442 705,434 Z" fill="none" stroke="#000" stroke-width="1.56" stroke-linejoin="round" stroke-linecap="round"/>
<path d="M707,437 C712,433 717,434 726,441 L728,459 C721,456 714,453 711,452 C708,447 707,443 707,437 Z" fill="none" stroke="#000" stroke-width="1.20" stroke-linejoin="round" stroke-linecap="round"/>
<path d="M729.5,430 L730,462" fill="none" stroke="#000" stroke-width="1.20" stroke-linejoin="round" stroke-linecap="round"/>
<path d="M705,420 C712,410 720,405 728,404" fill="none" stroke="#000" stroke-width="1.20" stroke-linejoin="round" stroke-linecap="round"/>
<ellipse cx="729.00" cy="424.50" rx="5.50" ry="2.60" fill="none" stroke="#000" stroke-width="1.32"/>
<path d="M729,405 L729,424" fill="none" stroke="#000" stroke-width="1.68" stroke-linejoin="round" stroke-linecap="round"/>
<path d="M730,431 C740,425 750,426 757,430 L770,452 C771,462 765,470 757,472 L742,474 C735,472 731,468 730,462 Z" fill="#fff" stroke="#000" stroke-width="1.56" stroke-linejoin="round" stroke-linecap="round"/>
<path d="M737.0,433.0 C743.0,440 745.0,455 743.0,471.0" fill="none" stroke="#000" stroke-width="1.08" stroke-linejoin="round" stroke-linecap="round"/>
<path d="M741.5,434.5 C747.5,441 749.5,455 747.5,470.5" fill="none" stroke="#000" stroke-width="1.08" stroke-linejoin="round" stroke-linecap="round"/>
<path d="M746.0,436.0 C752.0,442 754.0,455 752.0,470.0" fill="none" stroke="#000" stroke-width="1.08" stroke-linejoin="round" stroke-linecap="round"/>
<path d="M750.5,437.5 C756.5,443 758.5,455 756.5,469.5" fill="none" stroke="#000" stroke-width="1.08" stroke-linejoin="round" stroke-linecap="round"/>
<path d="M755.0,439.0 C761.0,444 763.0,455 761.0,469.0" fill="none" stroke="#000" stroke-width="1.08" stroke-linejoin="round" stroke-linecap="round"/>
<ellipse cx="762.00" cy="458.50" rx="8.00" ry="9.50" fill="#fff" stroke="#000" stroke-width="1.56" transform="rotate(20 762.00 458.50)"/>
<ellipse cx="763.00" cy="459.00" rx="5.50" ry="7.00" fill="none" stroke="#000" stroke-width="1.44" transform="rotate(20 763.00 459.00)"/>
<ellipse cx="813.00" cy="487.00" rx="39.60" ry="43.20" fill="#fff" stroke="#000" stroke-width="2.04" transform="rotate(15 813.00 487.00)"/>
<ellipse cx="814.20" cy="488.00" rx="20.50" ry="26.30" fill="#fff" stroke="#000" stroke-width="1.92" transform="rotate(20 814.20 488.00)"/>
<line x1="834.67" y1="493.84" x2="849.99" y2="496.91" stroke="#000" stroke-width="1.74"/>
<line x1="834.29" y1="495.15" x2="849.41" y2="498.93" stroke="#000" stroke-width="1.32"/>
<line x1="833.13" y1="498.34" x2="847.55" y2="503.81" stroke="#000" stroke-width="1.74"/>
<line x1="832.57" y1="499.57" x2="846.65" y2="505.70" stroke="#000" stroke-width="1.32"/>
<line x1="831.00" y1="502.52" x2="844.05" y2="510.19" stroke="#000" stroke-width="1.74"/>
<line x1="830.29" y1="503.65" x2="842.86" y2="511.90" stroke="#000" stroke-width="1.32"/>
<line x1="828.35" y1="506.28" x2="839.60" y2="515.87" stroke="#000" stroke-width="1.74"/>
<line x1="827.51" y1="507.26" x2="838.18" y2="517.34" stroke="#000" stroke-width="1.32"/>
<line x1="825.27" y1="509.49" x2="834.35" y2="520.67" stroke="#000" stroke-width="1.74"/>
<line x1="824.32" y1="510.29" x2="832.72" y2="521.86" stroke="#000" stroke-width="1.32"/>
<line x1="821.84" y1="512.05" x2="828.45" y2="524.45" stroke="#000" stroke-width="1.74"/>
<line x1="820.80" y1="512.66" x2="826.67" y2="525.33" stroke="#000" stroke-width="1.32"/>
<line x1="818.16" y1="513.90" x2="822.08" y2="527.09" stroke="#000" stroke-width="1.74"/>
<line x1="817.08" y1="514.28" x2="820.20" y2="527.62" stroke="#000" stroke-width="1.32"/>
<line x1="814.36" y1="514.96" x2="815.44" y2="528.51" stroke="#000" stroke-width="1.74"/>
<line x1="813.27" y1="515.12" x2="813.51" y2="528.69" stroke="#000" stroke-width="1.32"/>
<line x1="810.55" y1="515.21" x2="808.72" y2="528.67" stroke="#000" stroke-width="1.74"/>
<line x1="809.47" y1="515.13" x2="806.81" y2="528.49" stroke="#000" stroke-width="1.32"/>
<line x1="806.83" y1="514.65" x2="802.13" y2="527.57" stroke="#000" stroke-width="1.74"/>
<line x1="805.81" y1="514.34" x2="800.29" y2="527.02" stroke="#000" stroke-width="1.32"/>
<line x1="803.34" y1="513.28" x2="795.87" y2="525.23" stroke="#000" stroke-width="1.74"/>
<line x1="802.39" y1="512.75" x2="794.17" y2="524.34" stroke="#000" stroke-width="1.32"/>
<line x1="800.16" y1="511.15" x2="790.13" y2="521.73" stroke="#000" stroke-width="1.74"/>
<line x1="799.32" y1="510.41" x2="788.61" y2="520.53" stroke="#000" stroke-width="1.32"/>
<line x1="797.40" y1="508.33" x2="785.09" y2="517.18" stroke="#000" stroke-width="1.74"/>
<line x1="796.70" y1="507.41" x2="783.79" y2="515.70" stroke="#000" stroke-width="1.32"/>
<line x1="795.14" y1="504.90" x2="780.89" y2="511.71" stroke="#000" stroke-width="1.74"/>
<line x1="794.59" y1="503.82" x2="779.87" y2="509.99" stroke="#000" stroke-width="1.32"/>
<line x1="793.45" y1="500.96" x2="777.67" y2="505.48" stroke="#000" stroke-width="1.74"/>
<line x1="793.08" y1="499.76" x2="776.94" y2="503.59" stroke="#000" stroke-width="1.32"/>
<line x1="792.38" y1="496.64" x2="775.53" y2="498.70" stroke="#000" stroke-width="1.74"/>
<line x1="792.20" y1="495.35" x2="775.12" y2="496.68" stroke="#000" stroke-width="1.32"/>
<line x1="791.97" y1="492.07" x2="774.52" y2="491.56" stroke="#000" stroke-width="1.74"/>
<line x1="791.97" y1="490.73" x2="774.44" y2="489.48" stroke="#000" stroke-width="1.32"/>
<line x1="792.22" y1="487.38" x2="774.68" y2="484.28" stroke="#000" stroke-width="1.74"/>
<line x1="792.42" y1="486.03" x2="774.94" y2="482.20" stroke="#000" stroke-width="1.32"/>
<line x1="793.13" y1="482.71" x2="776.01" y2="477.09" stroke="#000" stroke-width="1.74"/>
<line x1="793.51" y1="481.40" x2="776.59" y2="475.07" stroke="#000" stroke-width="1.32"/>
<line x1="794.68" y1="478.22" x2="778.45" y2="470.19" stroke="#000" stroke-width="1.74"/>
<line x1="795.23" y1="476.98" x2="779.35" y2="468.30" stroke="#000" stroke-width="1.32"/>
<line x1="796.80" y1="474.03" x2="781.95" y2="463.81" stroke="#000" stroke-width="1.74"/>
<line x1="797.51" y1="472.90" x2="783.14" y2="462.10" stroke="#000" stroke-width="1.32"/>
<line x1="799.45" y1="470.27" x2="786.40" y2="458.13" stroke="#000" stroke-width="1.74"/>
<line x1="800.29" y1="469.29" x2="787.82" y2="456.66" stroke="#000" stroke-width="1.32"/>
<line x1="802.53" y1="467.06" x2="791.65" y2="453.33" stroke="#000" stroke-width="1.74"/>
<line x1="803.49" y1="466.26" x2="793.28" y2="452.14" stroke="#000" stroke-width="1.32"/>
<line x1="805.96" y1="464.50" x2="797.55" y2="449.55" stroke="#000" stroke-width="1.74"/>
<line x1="807.00" y1="463.89" x2="799.33" y2="448.67" stroke="#000" stroke-width="1.32"/>
<line x1="809.64" y1="462.66" x2="803.92" y2="446.91" stroke="#000" stroke-width="1.74"/>
<line x1="810.72" y1="462.27" x2="805.80" y2="446.38" stroke="#000" stroke-width="1.32"/>
<line x1="813.44" y1="461.59" x2="810.56" y2="445.49" stroke="#000" stroke-width="1.74"/>
<line x1="814.53" y1="461.44" x2="812.49" y2="445.31" stroke="#000" stroke-width="1.32"/>
<line x1="817.25" y1="461.34" x2="817.28" y2="445.33" stroke="#000" stroke-width="1.74"/>
<line x1="818.33" y1="461.42" x2="819.19" y2="445.51" stroke="#000" stroke-width="1.32"/>
<line x1="820.97" y1="461.91" x2="823.87" y2="446.43" stroke="#000" stroke-width="1.74"/>
<line x1="822.00" y1="462.22" x2="825.71" y2="446.98" stroke="#000" stroke-width="1.32"/>
<line x1="824.46" y1="463.27" x2="830.13" y2="448.77" stroke="#000" stroke-width="1.74"/>
<line x1="825.41" y1="463.81" x2="831.83" y2="449.66" stroke="#000" stroke-width="1.32"/>
<line x1="827.64" y1="465.40" x2="835.87" y2="452.27" stroke="#000" stroke-width="1.74"/>
<line x1="828.48" y1="466.14" x2="837.39" y2="453.47" stroke="#000" stroke-width="1.32"/>
<line x1="830.40" y1="468.22" x2="840.91" y2="456.82" stroke="#000" stroke-width="1.74"/>
<line x1="831.10" y1="469.15" x2="842.21" y2="458.30" stroke="#000" stroke-width="1.32"/>
<line x1="832.66" y1="471.65" x2="845.11" y2="462.29" stroke="#000" stroke-width="1.74"/>
<line x1="833.21" y1="472.73" x2="846.13" y2="464.01" stroke="#000" stroke-width="1.32"/>
<line x1="834.35" y1="475.59" x2="848.33" y2="468.52" stroke="#000" stroke-width="1.74"/>
<line x1="834.72" y1="476.79" x2="849.06" y2="470.41" stroke="#000" stroke-width="1.32"/>
<line x1="835.42" y1="479.91" x2="850.47" y2="475.30" stroke="#000" stroke-width="1.74"/>
<line x1="835.60" y1="481.20" x2="850.88" y2="477.32" stroke="#000" stroke-width="1.32"/>
<line x1="835.83" y1="484.49" x2="851.48" y2="482.44" stroke="#000" stroke-width="1.74"/>
<line x1="835.83" y1="485.82" x2="851.56" y2="484.52" stroke="#000" stroke-width="1.32"/>
<line x1="835.58" y1="489.18" x2="851.32" y2="489.72" stroke="#000" stroke-width="1.74"/>
<line x1="835.38" y1="490.52" x2="851.06" y2="491.80" stroke="#000" stroke-width="1.32"/>
<path d="M896,506.4 L956.1,493.3 L960,497 L961.7,503 L949.9,509.2 L900.2,521.6 Z" fill="#fff" stroke="#000" stroke-width="1.56" stroke-linejoin="round" stroke-linecap="round"/>
<path d="M913,502.5 C916,506.5 916.5,514 914.5,518" fill="none" stroke="#000" stroke-width="1.32" stroke-linejoin="round" stroke-linecap="round"/>
<path d="M925,500 C928,504 928.5,511.20000000000005 926.5,515.2" fill="none" stroke="#000" stroke-width="1.32" stroke-linejoin="round" stroke-linecap="round"/>
<path d="M937,497.5 C940,501.5 940.5,508.20000000000005 938.5,512.2" fill="none" stroke="#000" stroke-width="1.32" stroke-linejoin="round" stroke-linecap="round"/>
<path d="M949,494.5 C952,498.5 952.5,505.5 950.5,509.5" fill="none" stroke="#000" stroke-width="1.32" stroke-linejoin="round" stroke-linecap="round"/>
<ellipse cx="953.00" cy="499.50" rx="1.60" ry="5.60" fill="none" stroke="#000" stroke-width="1.08" transform="rotate(12 953.00 499.50)"/>
<ellipse cx="955.20" cy="499.50" rx="1.60" ry="5.60" fill="none" stroke="#000" stroke-width="1.08" transform="rotate(12 955.20 499.50)"/>
<ellipse cx="957.40" cy="499.50" rx="1.60" ry="5.60" fill="none" stroke="#000" stroke-width="1.08" transform="rotate(12 957.40 499.50)"/>
<ellipse cx="959.60" cy="499.50" rx="1.60" ry="5.60" fill="none" stroke="#000" stroke-width="1.08" transform="rotate(12 959.60 499.50)"/>
<path d="M866,508 L878,498 L896,497.5 L900.2,503 L900.2,522 L898,530 L880,536.5 L868,533 Z" fill="#fff" stroke="#000" stroke-width="1.56" stroke-linejoin="round" stroke-linecap="round"/>
<line x1="874.00" y1="504.00" x2="896.00" y2="498.50" stroke="#000" stroke-width="1.44"/>
<line x1="874.30" y1="509.00" x2="896.00" y2="503.90" stroke="#000" stroke-width="1.44"/>
<line x1="874.60" y1="514.00" x2="896.00" y2="509.30" stroke="#000" stroke-width="1.44"/>
<line x1="874.90" y1="519.00" x2="896.00" y2="514.70" stroke="#000" stroke-width="1.44"/>
<line x1="875.20" y1="524.00" x2="896.00" y2="520.10" stroke="#000" stroke-width="1.44"/>
<line x1="875.50" y1="529.00" x2="896.00" y2="525.50" stroke="#000" stroke-width="1.44"/>
<line x1="875.80" y1="534.00" x2="896.00" y2="530.90" stroke="#000" stroke-width="1.44"/>
<path d="M864.2,512 L866,508 L869,507 L871,509 L874,507.5 L877,510 L878.7,516 L877,520 L878.7,525 L877,531 L873,534.8 L869,533 L866,529 L864.2,524 L865.5,518 Z" fill="#fff" stroke="#000" stroke-width="1.56" stroke-linejoin="round" stroke-linecap="round"/>
<ellipse cx="872.60" cy="521.60" rx="3.90" ry="7.00" fill="none" stroke="#000" stroke-width="1.44" transform="rotate(8 872.60 521.60)"/>
<path d="M771.3,230.5 C771.3,228 782.4,228 782.4,230.5 L782.4,281 C782.4,283.5 771.3,283.5 771.3,281 Z" fill="#fff" stroke="#000" stroke-width="1.56" stroke-linejoin="round" stroke-linecap="round"/>
<path d="M771.3,231 C773,233 781,233 782.4,231" fill="none" stroke="#000" stroke-width="1.20" stroke-linejoin="round" stroke-linecap="round"/>
<path d="M772.5,240 L772.5,245 M772.5,268 L772.5,278" fill="none" stroke="#000" stroke-width="1.92" stroke-linejoin="round" stroke-linecap="round"/>
<polygon points="791.20,235.50 810.00,230.50 811.00,235.00 792.20,240.20" fill="#fff" stroke="#000" stroke-width="1.32" stroke-linejoin="round"/>
<path d="M762.7,198 C763,194 770,192.5 777,192.5 C785,192.5 791,194 791,198 L786,212 C783,215 773,215 771,212 Z" fill="#fff" stroke="#000" stroke-width="1.56" stroke-linejoin="round" stroke-linecap="round"/>
<path d="M762.7,198 C766,202 786,202 791,198" fill="none" stroke="#000" stroke-width="1.20" stroke-linejoin="round" stroke-linecap="round"/>
<line x1="772.00" y1="203.00" x2="772.30" y2="213.50" stroke="#000" stroke-width="1.08"/>
<line x1="775.50" y1="203.00" x2="775.80" y2="213.50" stroke="#000" stroke-width="1.08"/>
<line x1="779.00" y1="203.00" x2="779.30" y2="213.50" stroke="#000" stroke-width="1.08"/>
<line x1="782.50" y1="203.00" x2="782.80" y2="213.50" stroke="#000" stroke-width="1.08"/>
<ellipse cx="777.00" cy="195.50" rx="3.00" ry="1.20" fill="none" stroke="#000" stroke-width="1.08"/>
<path d="M769,298 C769,294.5 783.5,294.5 783.5,298 L791.6,312 C790,316 764,316 761.5,312 Z" fill="#fff" stroke="#000" stroke-width="1.56" stroke-linejoin="round" stroke-linecap="round"/>
<ellipse cx="776.30" cy="297.50" rx="7.00" ry="3.00" fill="none" stroke="#000" stroke-width="1.32"/>
<path d="M768,301 C772,303 781,303 784,301" fill="none" stroke="#000" stroke-width="1.20" stroke-linejoin="round" stroke-linecap="round"/>
<line x1="765.00" y1="303.00" x2="762.50" y2="314.50" stroke="#000" stroke-width="1.08"/>
<line x1="769.40" y1="303.00" x2="767.90" y2="314.50" stroke="#000" stroke-width="1.08"/>
<line x1="773.80" y1="303.00" x2="773.30" y2="314.50" stroke="#000" stroke-width="1.08"/>
<line x1="778.20" y1="303.00" x2="778.70" y2="314.50" stroke="#000" stroke-width="1.08"/>
<line x1="782.60" y1="303.00" x2="784.10" y2="314.50" stroke="#000" stroke-width="1.08"/>
<line x1="787.00" y1="303.00" x2="789.50" y2="314.50" stroke="#000" stroke-width="1.08"/>
<polygon points="746.00,227.00 743.25,230.44 744.32,234.81 740.43,236.65 739.60,241.07 735.34,240.95 732.78,244.55 729.00,242.48 725.22,244.55 722.66,240.95 718.40,241.07 717.57,236.65 713.68,234.81 714.75,230.44 712.00,227.00 714.75,223.56 713.68,219.19 717.57,217.35 718.40,212.93 722.66,213.05 725.22,209.45 729.00,211.52 732.78,209.45 735.34,213.05 739.60,212.93 740.43,217.35 744.32,219.19 743.25,223.56" fill="#fff" stroke="#000" stroke-width="1.68" stroke-linejoin="round"/>
<clipPath id="cg1"><ellipse cx="729" cy="227" rx="14.62" ry="15.48"/></clipPath>
<g clip-path="url(#cg1)"><line x1="695.56" y1="220.44" x2="735.56" y2="260.44" stroke="#000" stroke-width="1.56"/><line x1="697.80" y1="218.20" x2="737.80" y2="258.20" stroke="#000" stroke-width="1.56"/><line x1="700.04" y1="215.96" x2="740.04" y2="255.96" stroke="#000" stroke-width="1.56"/><line x1="702.28" y1="213.72" x2="742.28" y2="253.72" stroke="#000" stroke-width="1.56"/><line x1="704.52" y1="211.48" x2="744.52" y2="251.48" stroke="#000" stroke-width="1.56"/><line x1="706.76" y1="209.24" x2="746.76" y2="249.24" stroke="#000" stroke-width="1.56"/><line x1="709.00" y1="207.00" x2="749.00" y2="247.00" stroke="#000" stroke-width="1.56"/><line x1="711.24" y1="204.76" x2="751.24" y2="244.76" stroke="#000" stroke-width="1.56"/><line x1="713.48" y1="202.52" x2="753.48" y2="242.52" stroke="#000" stroke-width="1.56"/><line x1="715.72" y1="200.28" x2="755.72" y2="240.28" stroke="#000" stroke-width="1.56"/><line x1="717.96" y1="198.04" x2="757.96" y2="238.04" stroke="#000" stroke-width="1.56"/><line x1="720.20" y1="195.80" x2="760.20" y2="235.80" stroke="#000" stroke-width="1.56"/><line x1="722.44" y1="193.56" x2="762.44" y2="233.56" stroke="#000" stroke-width="1.56"/><line x1="729.00" y1="209.00" x2="729.00" y2="245.00" stroke="#000" stroke-width="1.68"/><line x1="711.00" y1="228.00" x2="747.00" y2="226.00" stroke="#000" stroke-width="1.68"/></g>
<polygon points="840.20,279.60 837.74,282.11 839.16,285.28 835.96,286.82 836.18,290.27 832.62,290.66 831.60,293.98 828.12,293.17 825.99,295.95 823.00,294.04 820.01,295.95 817.88,293.17 814.40,293.98 813.38,290.66 809.82,290.27 810.04,286.82 806.84,285.28 808.26,282.11 805.80,279.60 808.26,277.09 806.84,273.92 810.04,272.38 809.82,268.93 813.38,268.54 814.40,265.22 817.88,266.03 820.01,263.25 823.00,265.16 825.99,263.25 828.12,266.03 831.60,265.22 832.62,268.54 836.18,268.93 835.96,272.38 839.16,273.92 837.74,277.09" fill="#fff" stroke="#000" stroke-width="1.56" stroke-linejoin="round"/>
<line x1="831.97" y1="283.25" x2="838.40" y2="281.09" stroke="#000" stroke-width="1.44"/>
<line x1="831.41" y1="285.42" x2="836.95" y2="286.09" stroke="#000" stroke-width="1.44"/>
<line x1="830.19" y1="287.25" x2="833.81" y2="290.30" stroke="#000" stroke-width="1.44"/>
<line x1="828.47" y1="288.53" x2="829.36" y2="293.22" stroke="#000" stroke-width="1.44"/>
<line x1="826.45" y1="289.08" x2="824.15" y2="294.50" stroke="#000" stroke-width="1.44"/>
<line x1="824.37" y1="288.86" x2="818.80" y2="293.98" stroke="#000" stroke-width="1.44"/>
<line x1="822.50" y1="287.88" x2="813.96" y2="291.73" stroke="#000" stroke-width="1.44"/>
<line x1="821.04" y1="286.26" x2="810.21" y2="288.01" stroke="#000" stroke-width="1.44"/>
<line x1="820.19" y1="284.20" x2="808.00" y2="283.28" stroke="#000" stroke-width="1.44"/>
<line x1="820.03" y1="281.95" x2="807.60" y2="278.11" stroke="#000" stroke-width="1.44"/>
<line x1="820.59" y1="279.78" x2="809.05" y2="273.11" stroke="#000" stroke-width="1.44"/>
<line x1="821.81" y1="277.95" x2="812.19" y2="268.90" stroke="#000" stroke-width="1.44"/>
<line x1="823.53" y1="276.67" x2="816.64" y2="265.98" stroke="#000" stroke-width="1.44"/>
<line x1="825.55" y1="276.12" x2="821.85" y2="264.70" stroke="#000" stroke-width="1.44"/>
<line x1="827.63" y1="276.34" x2="827.20" y2="265.22" stroke="#000" stroke-width="1.44"/>
<line x1="829.50" y1="277.32" x2="832.04" y2="267.47" stroke="#000" stroke-width="1.44"/>
<line x1="830.96" y1="278.94" x2="835.79" y2="271.19" stroke="#000" stroke-width="1.44"/>
<line x1="831.81" y1="281.00" x2="838.00" y2="275.92" stroke="#000" stroke-width="1.44"/>
<ellipse cx="823.00" cy="279.60" rx="10.66" ry="10.29" fill="none" stroke="#000" stroke-width="1.20"/>
<ellipse cx="828.50" cy="285.50" rx="7.00" ry="8.50" fill="#fff" stroke="#000" stroke-width="1.68" transform="rotate(20 828.50 285.50)"/>
<line x1="824.00" y1="280.00" x2="829.00" y2="292.00" stroke="#000" stroke-width="1.20"/>
<line x1="826.50" y1="281.00" x2="831.50" y2="291.00" stroke="#000" stroke-width="1.20"/>
<line x1="829.00" y1="282.00" x2="834.00" y2="290.00" stroke="#000" stroke-width="1.20"/>
<polygon points="1150.00,36.00 1161.00,35.00 1161.50,52.00 1150.50,53.00" fill="#fff" stroke="#000" stroke-width="1.56" stroke-linejoin="round"/>
<path d="M1151,44 L1161,43.5" fill="none" stroke="#000" stroke-width="1.20" stroke-linejoin="round" stroke-linecap="round"/>
<polygon points="1153.00,52.50 1157.50,52.50 1157.50,60.00 1153.00,60.00" fill="#fff" stroke="#000" stroke-width="1.32" stroke-linejoin="round"/>
<polygon points="1151.00,61.00 1160.00,61.00 1160.00,75.00 1151.00,75.00" fill="#fff" stroke="#000" stroke-width="1.44" stroke-linejoin="round"/>
<polygon points="1149.00,74.00 1164.00,74.00 1164.00,84.00 1149.00,84.00" fill="#fff" stroke="#000" stroke-width="1.44" stroke-linejoin="round"/>
<ellipse cx="1159.00" cy="80.00" rx="3.00" ry="3.00" fill="none" stroke="#000" stroke-width="1.32"/>
<path d="M1152,84 C1152,92 1155,100 1158,106 L1163,117 L1169,115 L1164,104 C1161,98 1159,92 1159,84 Z" fill="#fff" stroke="#000" stroke-width="1.44" stroke-linejoin="round" stroke-linecap="round"/>
<path d="M1154,95 L1161,93" fill="none" stroke="#000" stroke-width="1.20" stroke-linejoin="round" stroke-linecap="round"/>
<path d="M1163,117 L1166,123 L1164,128 L1170,138 L1176,137 L1180,131 L1177,122 L1171,116 Z" fill="#fff" stroke="#000" stroke-width="1.56" stroke-linejoin="round" stroke-linecap="round"/>
<path d="M1166,124 L1176,120 M1167,130 L1178,126" fill="none" stroke="#000" stroke-width="1.20" stroke-linejoin="round" stroke-linecap="round"/>
<polygon points="1172.00,137.00 1178.00,135.00 1181.00,144.00 1175.00,146.00" fill="#fff" stroke="#000" stroke-width="1.44" stroke-linejoin="round"/>
<polygon points="1062.00,151.00 1068.50,142.50 1092.00,137.00 1126.00,155.00 1123.50,159.00 1102.00,164.00 1082.00,156.00 1065.00,153.00" fill="#fff" stroke="#000" stroke-width="1.56" stroke-linejoin="round"/>
<path d="M1068.5,142.5 L1075,151 L1082,156" fill="none" stroke="#000" stroke-width="1.20" stroke-linejoin="round" stroke-linecap="round"/>
<ellipse cx="1078.00" cy="146.00" rx="2.00" ry="1.50" fill="none" stroke="#000" stroke-width="1.20"/>
<ellipse cx="1100.00" cy="148.00" rx="2.00" ry="1.50" fill="none" stroke="#000" stroke-width="1.20"/>
<ellipse cx="1103.00" cy="157.00" rx="2.00" ry="1.50" fill="none" stroke="#000" stroke-width="1.20"/>
<path d="M1271,965 C1271,962 1274,960 1277.5,960 L1331,954 L1335,955 L1352.5,974 L1351,980 L1335,977.5 L1326,976 L1277.5,979 L1271,974 Z" fill="#fff" stroke="#000" stroke-width="1.56" stroke-linejoin="round" stroke-linecap="round"/>
<path d="M1277.5,970 L1326,964 M1326,976 L1335,966 L1352.5,974" fill="none" stroke="#000" stroke-width="1.20" stroke-linejoin="round" stroke-linecap="round"/>
<ellipse cx="1329.00" cy="964.00" rx="4.00" ry="3.50" fill="none" stroke="#000" stroke-width="1.32"/>
<path d="M207.5,990 L264,990 C269,990 272,994 272,999.5 C272,1005 269,1009 264,1009 L216,1009 L214,1013 L193.5,1017.5 L192.5,1012 Z" fill="#fff" stroke="#000" stroke-width="1.56" stroke-linejoin="round" stroke-linecap="round"/>
<ellipse cx="213.50" cy="999.50" rx="4.80" ry="5.00" fill="none" stroke="#000" stroke-width="1.32"/>
<text x="222" y="1003.5" font-family="Liberation Sans" font-size="10.5" textLength="43" lengthAdjust="spacingAndGlyphs">LSD  OIL</text>
<line x1="172.00" y1="916.50" x2="186.00" y2="930.50" stroke="#000" stroke-width="1.56"/>
<line x1="172.00" y1="930.50" x2="186.00" y2="916.50" stroke="#000" stroke-width="1.56"/>
<circle cx="179" cy="916.5" r="1.2" fill="#000"/>
<circle cx="179" cy="930.5" r="1.2" fill="#000"/>
<circle cx="172" cy="923.5" r="1.2" fill="#000"/>
<circle cx="186" cy="923.5" r="1.2" fill="#000"/>
<text x="191" y="930.5" font-family="Liberation Sans" font-size="17" textLength="5.5" lengthAdjust="spacingAndGlyphs">1</text>
<line x1="1320.00" y1="1012.50" x2="1334.00" y2="1026.50" stroke="#000" stroke-width="1.56"/>
<line x1="1320.00" y1="1026.50" x2="1334.00" y2="1012.50" stroke="#000" stroke-width="1.56"/>
<circle cx="1327" cy="1012.5" r="1.2" fill="#000"/>
<circle cx="1327" cy="1026.5" r="1.2" fill="#000"/>
<circle cx="1320" cy="1019.5" r="1.2" fill="#000"/>
<circle cx="1334" cy="1019.5" r="1.2" fill="#000"/>
<text x="1339" y="1026.5" font-family="Liberation Sans" font-size="17" textLength="5.5" lengthAdjust="spacingAndGlyphs">1</text>
<polyline points="70.3,43.5 84.2,43.5" fill="none" stroke="#000" stroke-width="1.35" stroke-linejoin="miter"/>
<polyline points="77.2,43.5 77.2,53.9" fill="none" stroke="#000" stroke-width="1.35" stroke-linejoin="miter"/>
<polyline points="71.8,58.2 71.8,47.1 82.7,47.1 82.7,58.2" fill="none" stroke="#000" stroke-width="1.35" stroke-linejoin="miter"/>
<polyline points="71.8,50.4 82.7,50.4" fill="none" stroke="#000" stroke-width="1.35" stroke-linejoin="miter"/>
<polyline points="69.5,53.9 85.0,53.9" fill="none" stroke="#000" stroke-width="1.35" stroke-linejoin="miter"/>
<polyline points="92.1,42.2 89.4,49.0" fill="none" stroke="#000" stroke-width="1.35" stroke-linejoin="miter"/>
<polyline points="90.8,46.3 90.8,58.5" fill="none" stroke="#000" stroke-width="1.35" stroke-linejoin="miter"/>
<polyline points="93.6,44.2 104.2,44.2" fill="none" stroke="#000" stroke-width="1.35" stroke-linejoin="miter"/>
<polyline points="98.7,42.2 98.7,52.3" fill="none" stroke="#000" stroke-width="1.35" stroke-linejoin="miter"/>
<polyline points="94.5,46.8 102.9,46.8 102.9,51.2 94.5,51.2 94.5,46.8" fill="none" stroke="#000" stroke-width="1.35" stroke-linejoin="miter"/>
<polyline points="95.6,52.3 103.8,58.5" fill="none" stroke="#000" stroke-width="1.35" stroke-linejoin="miter"/>
<polyline points="101.8,52.3 93.6,58.5" fill="none" stroke="#000" stroke-width="1.35" stroke-linejoin="miter"/>
<polyline points="109.7,43.0 109.7,55.2 108.1,58.5" fill="none" stroke="#000" stroke-width="1.35" stroke-linejoin="miter"/>
<polyline points="109.7,43.0 121.8,43.0 121.8,58.5 119.9,57.7" fill="none" stroke="#000" stroke-width="1.35" stroke-linejoin="miter"/>
<polyline points="109.7,48.2 121.8,48.2" fill="none" stroke="#000" stroke-width="1.35" stroke-linejoin="miter"/>
<polyline points="109.7,53.1 121.8,53.1" fill="none" stroke="#000" stroke-width="1.35" stroke-linejoin="miter"/>
<polyline points="115.7,43.0 115.7,58.5" fill="none" stroke="#000" stroke-width="1.35" stroke-linejoin="miter"/>
<polyline points="126.9,43.5 142.4,43.5" fill="none" stroke="#000" stroke-width="1.35" stroke-linejoin="miter"/>
<polyline points="135.9,43.5 127.7,53.9" fill="none" stroke="#000" stroke-width="1.35" stroke-linejoin="miter"/>
<polyline points="134.7,48.4 134.7,58.5" fill="none" stroke="#000" stroke-width="1.35" stroke-linejoin="miter"/>
<polyline points="136.6,49.0 141.7,53.9" fill="none" stroke="#000" stroke-width="1.35" stroke-linejoin="miter"/>
<polyline points="146.1,43.5 161.6,43.5" fill="none" stroke="#000" stroke-width="1.35" stroke-linejoin="miter"/>
<polyline points="158.5,43.5 158.5,57.7 155.7,56.9" fill="none" stroke="#000" stroke-width="1.35" stroke-linejoin="miter"/>
<polyline points="148.4,47.1 155.4,47.1 155.4,53.6 148.4,53.6 148.4,47.1" fill="none" stroke="#000" stroke-width="1.35" stroke-linejoin="miter"/>
<polyline points="169.4,42.2 169.4,44.2" fill="none" stroke="#000" stroke-width="1.35" stroke-linejoin="miter"/>
<polyline points="165.7,44.5 173.3,44.5" fill="none" stroke="#000" stroke-width="1.35" stroke-linejoin="miter"/>
<polyline points="167.1,46.1 168.3,48.7" fill="none" stroke="#000" stroke-width="1.35" stroke-linejoin="miter"/>
<polyline points="171.8,46.1 170.5,48.7" fill="none" stroke="#000" stroke-width="1.35" stroke-linejoin="miter"/>
<polyline points="165.2,49.2 173.8,49.2" fill="none" stroke="#000" stroke-width="1.35" stroke-linejoin="miter"/>
<polyline points="166.8,51.3 172.2,51.3 172.2,57.7 166.8,57.7 166.8,51.3" fill="none" stroke="#000" stroke-width="1.35" stroke-linejoin="miter"/>
<polyline points="175.2,58.5 175.2,43.0 179.7,43.0 177.0,48.7 180.3,52.3 179.2,54.9 176.4,55.2" fill="none" stroke="#000" stroke-width="1.35" stroke-linejoin="miter"/>
<polyline points="188.7,43.0 195.6,43.0 195.6,48.4 188.7,48.4 188.7,43.0" fill="none" stroke="#000" stroke-width="1.35" stroke-linejoin="miter"/>
<polyline points="184.7,51.2 191.4,51.2 191.4,57.7 184.7,57.7 184.7,51.2" fill="none" stroke="#000" stroke-width="1.35" stroke-linejoin="miter"/>
<polyline points="192.9,51.2 199.6,51.2 199.6,57.7 192.9,57.7 192.9,51.2" fill="none" stroke="#000" stroke-width="1.35" stroke-linejoin="miter"/>
<line x1="137.5" y1="305" x2="189" y2="335" stroke="#000" stroke-width="1.35" stroke-dasharray="9.5 4.5"/>
<line x1="260" y1="316" x2="282" y2="327" stroke="#000" stroke-width="1.35" stroke-dasharray="9.5 4.5"/>
<line x1="90" y1="449" x2="105" y2="456" stroke="#000" stroke-width="1.35" stroke-dasharray="9.5 4.5"/>
<line x1="105" y1="456" x2="105" y2="347" stroke="#000" stroke-width="2" stroke-dasharray="9.5 4.5"/>
<line x1="105" y1="347" x2="119" y2="355" stroke="#000" stroke-width="1.35" stroke-dasharray="9.5 4.5"/>
<line x1="181" y1="389" x2="181" y2="522.5" stroke="#000" stroke-width="2" stroke-dasharray="9.5 4.5"/>
<line x1="181" y1="522.5" x2="197.5" y2="530" stroke="#000" stroke-width="1.35" stroke-dasharray="9.5 4.5"/>
<line x1="150" y1="374" x2="257.5" y2="419" stroke="#000" stroke-width="1.35" stroke-dasharray="9.5 4.5"/>
<line x1="331" y1="355" x2="350" y2="365" stroke="#000" stroke-width="1.35" stroke-dasharray="9.5 4.5"/>
<line x1="438" y1="522" x2="492" y2="553.4" stroke="#000" stroke-width="1.35" stroke-dasharray="9.5 4.5"/>
<line x1="492" y1="553.4" x2="192.5" y2="631" stroke="#000" stroke-width="1.35" stroke-dasharray="9.5 4.5"/>
<line x1="192.5" y1="631" x2="231" y2="654" stroke="#000" stroke-width="1.35" stroke-dasharray="9.5 4.5"/>
<line x1="347.5" y1="664" x2="787" y2="547.5" stroke="#000" stroke-width="1.35" stroke-dasharray="9.5 4.5"/>
<line x1="182.5" y1="747.5" x2="265" y2="717.5" stroke="#000" stroke-width="1.35" stroke-dasharray="9.5 4.5"/>
<line x1="451" y1="710" x2="451" y2="765" stroke="#000" stroke-width="2" stroke-dasharray="9.5 4.5"/>
<line x1="758" y1="280.5" x2="729" y2="292.5" stroke="#000" stroke-width="1.35" stroke-dasharray="9.5 4.5"/>
<line x1="729" y1="292.5" x2="729" y2="410" stroke="#000" stroke-width="2" stroke-dasharray="9.5 4.5"/>
<line x1="669" y1="442.5" x2="688" y2="452.5" stroke="#000" stroke-width="1.35" stroke-dasharray="9.5 4.5"/>
<line x1="811" y1="488" x2="856.5" y2="514" stroke="#000" stroke-width="1.35" stroke-dasharray="9.5 4.5"/>
<line x1="905" y1="542" x2="950" y2="567.5" stroke="#000" stroke-width="1.35" stroke-dasharray="9.5 4.5"/>
<line x1="1067" y1="121" x2="1076" y2="142.5" stroke="#000" stroke-width="1.35" stroke-dasharray="9.5 4.5"/>
<line x1="1082" y1="156" x2="1196" y2="411" stroke="#000" stroke-width="1.35" stroke-dasharray="9.5 4.5"/>
<line x1="1187.5" y1="162.5" x2="1211" y2="214" stroke="#000" stroke-width="1.35" stroke-dasharray="9.5 4.5"/>
<line x1="1211" y1="214" x2="1126" y2="235" stroke="#000" stroke-width="1.35" stroke-dasharray="9.5 4.5"/>
<line x1="1126" y1="235" x2="1206" y2="407" stroke="#000" stroke-width="1.35" stroke-dasharray="9.5 4.5"/>
<line x1="1486.5" y1="127.5" x2="1357" y2="162" stroke="#000" stroke-width="1.35" stroke-dasharray="9.5 4.5"/>
<line x1="1357" y1="162" x2="1357" y2="277.5" stroke="#000" stroke-width="2" stroke-dasharray="9.5 4.5"/>
<line x1="1357" y1="277.5" x2="1146" y2="333.75" stroke="#000" stroke-width="1.35" stroke-dasharray="9.5 4.5"/>
<line x1="1146" y1="333.75" x2="1146" y2="390" stroke="#000" stroke-width="2" stroke-dasharray="9.5 4.5"/>
<line x1="1146" y1="390" x2="1133.5" y2="392.5" stroke="#000" stroke-width="1.35" stroke-dasharray="9.5 4.5"/>
<line x1="982" y1="372.5" x2="1042" y2="358.75" stroke="#000" stroke-width="1.35" stroke-dasharray="9.5 4.5"/>
<line x1="1042" y1="358.75" x2="1042" y2="437" stroke="#000" stroke-width="2" stroke-dasharray="9.5 4.5"/>
<line x1="1226.5" y1="425" x2="1261.5" y2="416" stroke="#000" stroke-width="1.35" stroke-dasharray="9.5 4.5"/>
<line x1="1196" y1="431" x2="1196" y2="866" stroke="#000" stroke-width="2" stroke-dasharray="9.5 4.5"/>
<line x1="1196" y1="866" x2="1255" y2="851" stroke="#000" stroke-width="1.35" stroke-dasharray="9.5 4.5"/>
<line x1="1290" y1="839" x2="1317.5" y2="831" stroke="#000" stroke-width="1.35" stroke-dasharray="9.5 4.5"/>
<line x1="1336" y1="826" x2="1396" y2="809" stroke="#000" stroke-width="1.35" stroke-dasharray="9.5 4.5"/>
<line x1="1170" y1="496" x2="1181" y2="495" stroke="#000" stroke-width="1.35" stroke-dasharray="9.5 4.5"/>
<line x1="1181" y1="495" x2="1181" y2="1000" stroke="#000" stroke-width="2" stroke-dasharray="9.5 4.5"/>
<line x1="1181" y1="1000" x2="1231" y2="989" stroke="#000" stroke-width="1.35" stroke-dasharray="9.5 4.5"/>
<line x1="1256" y1="981" x2="1400" y2="944" stroke="#000" stroke-width="1.35" stroke-dasharray="9.5 4.5"/>
<line x1="1431" y1="936" x2="1470" y2="926" stroke="#000" stroke-width="1.35" stroke-dasharray="9.5 4.5"/>
<line x1="615.5" y1="980" x2="638" y2="991" stroke="#000" stroke-width="1.35" stroke-dasharray="9.5 4.5"/>
<line x1="638" y1="991" x2="638" y2="904" stroke="#000" stroke-width="2" stroke-dasharray="9.5 4.5"/>
<line x1="638" y1="904" x2="658" y2="912.5" stroke="#000" stroke-width="1.35" stroke-dasharray="9.5 4.5"/>
<line x1="639" y1="890" x2="660.5" y2="900" stroke="#000" stroke-width="1.35" stroke-dasharray="9.5 4.5"/>
<line x1="807.5" y1="879" x2="832.5" y2="891.5" stroke="#000" stroke-width="1.35" stroke-dasharray="9.5 4.5"/>
<line x1="867.5" y1="915" x2="889" y2="925" stroke="#000" stroke-width="1.35" stroke-dasharray="9.5 4.5"/>
<line x1="747.5" y1="996.5" x2="778.75" y2="1012.75" stroke="#000" stroke-width="1.35" stroke-dasharray="9.5 4.5"/>
<line x1="706" y1="946.5" x2="706" y2="1010" stroke="#000" stroke-width="2" stroke-dasharray="9.5 4.5"/>
<line x1="706" y1="1010" x2="721" y2="1017.75" stroke="#000" stroke-width="1.35" stroke-dasharray="9.5 4.5"/>
<line x1="1036" y1="475" x2="1084" y2="459.5" stroke="#000" stroke-width="1.35" stroke-dasharray="9.5 4.5"/>
<g font-family="Liberation Mono" fill="#000">
<text x="558.77" y="210.50" font-size="23.11" font-weight="normal" textLength="72.42" lengthAdjust="spacingAndGlyphs" stroke="#000" stroke-width="0.65">41361F</text>
<text x="601.74" y="239.50" font-size="24.62" font-weight="normal" textLength="71.50" lengthAdjust="spacingAndGlyphs" stroke="#000" stroke-width="0.65">41331F</text>
<text x="658.69" y="275.00" font-size="26.25" font-weight="normal" textLength="69.61" lengthAdjust="spacingAndGlyphs" stroke="#000" stroke-width="0.65">41371A</text>
<text x="575.21" y="312.50" font-size="24.62" font-weight="normal" textLength="69.61" lengthAdjust="spacingAndGlyphs" stroke="#000" stroke-width="0.65">41311A</text>
<text x="635.17" y="357.50" font-size="26.25" font-weight="normal" textLength="70.17" lengthAdjust="spacingAndGlyphs" stroke="#000" stroke-width="0.65">41311D</text>
<text x="820.74" y="209.00" font-size="24.62" font-weight="normal" textLength="71.03" lengthAdjust="spacingAndGlyphs" stroke="#000" stroke-width="0.65">41341F</text>
<text x="841.74" y="242.50" font-size="24.62" font-weight="normal" textLength="69.08" lengthAdjust="spacingAndGlyphs" stroke="#000" stroke-width="0.65">41342A</text>
<text x="868.22" y="277.50" font-size="24.62" font-weight="normal" textLength="70.02" lengthAdjust="spacingAndGlyphs" stroke="#000" stroke-width="0.65">41331F</text>
<text x="742.74" y="350.00" font-size="24.89" font-weight="normal" textLength="70.53" lengthAdjust="spacingAndGlyphs" stroke="#000" stroke-width="0.65">41341F</text>
<text x="833.67" y="362.50" font-size="27.35" font-weight="normal" textLength="71.18" lengthAdjust="spacingAndGlyphs" stroke="#000" stroke-width="0.65">41361F</text>
<text x="627.70" y="494.50" font-size="26.25" font-weight="normal" textLength="70.57" lengthAdjust="spacingAndGlyphs" stroke="#000" stroke-width="0.65">413O2H</text>
<text x="686.70" y="523.00" font-size="26.25" font-weight="normal" textLength="56.11" lengthAdjust="spacingAndGlyphs" stroke="#000" stroke-width="0.65">41311</text>
<text x="815.70" y="603.00" font-size="26.25" font-weight="normal" textLength="70.12" lengthAdjust="spacingAndGlyphs" stroke="#000" stroke-width="0.65">412O1T</text>
<text x="985.27" y="297.00" font-size="23.11" font-weight="normal" textLength="69.50" lengthAdjust="spacingAndGlyphs" stroke="#000" stroke-width="0.65">411O1A</text>
<text x="938.76" y="348.75" font-size="25.15" font-weight="normal" textLength="69.47" lengthAdjust="spacingAndGlyphs" stroke="#000" stroke-width="0.65">41114B</text>
<text x="946.69" y="446.00" font-size="26.25" font-weight="normal" textLength="68.63" lengthAdjust="spacingAndGlyphs" stroke="#000" stroke-width="0.65">412O1V</text>
<text x="989.70" y="548.00" font-size="26.25" font-weight="normal" textLength="70.58" lengthAdjust="spacingAndGlyphs" stroke="#000" stroke-width="0.65">41211B</text>
<text x="1018.10" y="581.00" font-size="27.66" font-weight="normal" textLength="70.27" lengthAdjust="spacingAndGlyphs" stroke="#000" stroke-width="0.65">41311C</text>
<text x="995.62" y="679.00" font-size="27.66" font-weight="normal" textLength="69.28" lengthAdjust="spacingAndGlyphs" stroke="#000" stroke-width="0.65">41311A</text>
<text x="1038.19" y="792.00" font-size="26.25" font-weight="normal" textLength="71.62" lengthAdjust="spacingAndGlyphs" stroke="#000" stroke-width="0.65">4111OF</text>
<text x="954.77" y="155.50" font-size="24.62" font-weight="normal" textLength="70.25" lengthAdjust="spacingAndGlyphs" stroke="#000" stroke-width="0.65">84113E</text>
<text x="1472.49" y="87.50" font-size="24.62" font-weight="normal" textLength="70.27" lengthAdjust="spacingAndGlyphs" stroke="#000" stroke-width="0.65">4311ON</text>
<text x="1487.47" y="307.50" font-size="24.62" font-weight="normal" textLength="69.81" lengthAdjust="spacingAndGlyphs" stroke="#000" stroke-width="0.65">412O4E</text>
<text x="1341.73" y="327.50" font-size="24.62" font-weight="normal" textLength="70.05" lengthAdjust="spacingAndGlyphs" stroke="#000" stroke-width="0.65">411O1D</text>
<text x="1392.69" y="443.00" font-size="26.25" font-weight="normal" textLength="68.63" lengthAdjust="spacingAndGlyphs" stroke="#000" stroke-width="0.65">41252A</text>
<text x="1424.73" y="490.50" font-size="24.62" font-weight="normal" textLength="69.52" lengthAdjust="spacingAndGlyphs" stroke="#000" stroke-width="0.65">412O4D</text>
<text x="1302.62" y="463.00" font-size="27.66" font-weight="normal" textLength="69.77" lengthAdjust="spacingAndGlyphs" stroke="#000" stroke-width="0.65">41211A</text>
<text x="1462.25" y="960.00" font-size="23.11" font-weight="normal" textLength="69.00" lengthAdjust="spacingAndGlyphs" stroke="#000" stroke-width="0.65">4111OP</text>
<text x="300.77" y="406.00" font-size="23.11" font-weight="normal" textLength="70.44" lengthAdjust="spacingAndGlyphs" stroke="#000" stroke-width="0.65">4311OL</text>
<text x="391.27" y="456.50" font-size="22.94" font-weight="normal" textLength="70.42" lengthAdjust="spacingAndGlyphs" stroke="#000" stroke-width="0.65">4311OL</text>
<text x="183.73" y="456.00" font-size="26.25" font-weight="normal" textLength="70.57" lengthAdjust="spacingAndGlyphs" stroke="#000" stroke-width="0.65">5239OC</text>
<text x="332.68" y="564.00" font-size="25.57" font-weight="normal" textLength="72.14" lengthAdjust="spacingAndGlyphs" stroke="#000" stroke-width="0.65">4311OJ</text>
<text x="142.22" y="709.00" font-size="24.62" font-weight="normal" textLength="71.02" lengthAdjust="spacingAndGlyphs" stroke="#000" stroke-width="0.65">4111ON</text>
<text x="279.71" y="788.00" font-size="26.25" font-weight="normal" textLength="58.11" lengthAdjust="spacingAndGlyphs" stroke="#000" stroke-width="0.65">4311O</text>
<text x="109.76" y="821.00" font-size="23.11" font-weight="normal" textLength="70.99" lengthAdjust="spacingAndGlyphs" stroke="#000" stroke-width="0.65">4111OM</text>
<text x="193.62" y="968.00" font-size="27.66" font-weight="normal" textLength="58.76" lengthAdjust="spacingAndGlyphs" stroke="#000" stroke-width="0.65">41993</text>
<text x="422.27" y="679.00" font-size="24.74" font-weight="normal" textLength="69.46" lengthAdjust="spacingAndGlyphs" stroke="#000" stroke-width="0.65">4111OR</text>
<text x="527.75" y="775.75" font-size="24.54" font-weight="normal" textLength="69.58" lengthAdjust="spacingAndGlyphs" stroke="#000" stroke-width="0.65">4311OK</text>
<text x="488.62" y="884.00" font-size="27.66" font-weight="normal" textLength="70.83" lengthAdjust="spacingAndGlyphs" stroke="#000" stroke-width="0.65">4311OM</text>
<text x="556.66" y="922.00" font-size="27.35" font-weight="normal" textLength="70.72" lengthAdjust="spacingAndGlyphs" stroke="#000" stroke-width="0.65">4311OM</text>
<text x="673.19" y="872.00" font-size="26.25" font-weight="normal" textLength="70.14" lengthAdjust="spacingAndGlyphs" stroke="#000" stroke-width="0.65">5239OD</text>
<text x="56.01" y="236.21" font-size="20.65" font-weight="normal" textLength="144.01" lengthAdjust="spacingAndGlyphs" stroke="#000" stroke-width="0.55"><tspan y="236.21">9</tspan><tspan y="236.21">O</tspan><tspan y="236.21">1</tspan><tspan y="236.21">O</tspan><tspan y="236.21">5</tspan><tspan y="236.21">-</tspan><tspan y="236.21">1</tspan><tspan y="236.21">2</tspan><tspan y="236.21">2</tspan><tspan y="236.21">2</tspan><tspan y="236.21">8</tspan><tspan font-size="15.90" y="234.00">(</tspan><tspan y="236.21">4</tspan><tspan font-size="15.90" y="234.00">)</tspan></text>
<text x="183.94" y="258.00" font-size="21.08" font-weight="normal" textLength="114.13" lengthAdjust="spacingAndGlyphs" stroke="#000" stroke-width="0.55">9O1O5-1412O</text>
<text x="308.96" y="310.50" font-size="20.99" font-weight="normal" textLength="113.11" lengthAdjust="spacingAndGlyphs" stroke="#000" stroke-width="0.55">9O56O-14O27</text>
<text x="340.01" y="432.00" font-size="19.73" font-weight="normal" textLength="112.97" lengthAdjust="spacingAndGlyphs" stroke="#000" stroke-width="0.55">9O179-14O62</text>
<text x="23.90" y="490.50" font-size="22.19" font-weight="normal" textLength="113.20" lengthAdjust="spacingAndGlyphs" stroke="#000" stroke-width="0.55">9O1O5-14129</text>
<text x="46.41" y="549.00" font-size="22.59" font-weight="normal" textLength="113.65" lengthAdjust="spacingAndGlyphs" stroke="#000" stroke-width="0.55">9O56O-14O27</text>
<text x="184.90" y="599.50" font-size="22.19" font-weight="normal" textLength="114.20" lengthAdjust="spacingAndGlyphs" stroke="#000" stroke-width="0.55">9O179-14O62</text>
<text x="909.41" y="120.00" font-size="22.59" font-weight="normal" textLength="112.43" lengthAdjust="spacingAndGlyphs" stroke="#000" stroke-width="0.55">91551-8O81O</text>
<text x="1203.86" y="87.50" font-size="22.76" font-weight="normal" textLength="113.04" lengthAdjust="spacingAndGlyphs" stroke="#000" stroke-width="0.55">SUOO2-OO619</text>
<text x="1228.90" y="159.00" font-size="22.19" font-weight="normal" textLength="113.20" lengthAdjust="spacingAndGlyphs" stroke="#000" stroke-width="0.55">SUOO2-OO365</text>
<text x="1225.37" y="490.50" font-size="22.19" font-weight="normal" textLength="113.73" lengthAdjust="spacingAndGlyphs" stroke="#000" stroke-width="0.55">SUOO2-OO593</text>
<text x="1213.49" y="796.21" font-size="20.65" font-weight="normal" textLength="143.55" lengthAdjust="spacingAndGlyphs" stroke="#000" stroke-width="0.55"><tspan y="796.21">S</tspan><tspan y="796.21">U</tspan><tspan y="796.21">O</tspan><tspan y="796.21">O</tspan><tspan y="796.21">2</tspan><tspan y="796.21">-</tspan><tspan y="796.21">O</tspan><tspan y="796.21">O</tspan><tspan y="796.21">9</tspan><tspan y="796.21">1</tspan><tspan y="796.21">7</tspan><tspan font-size="15.90" y="794.00">(</tspan><tspan y="796.21">2</tspan><tspan font-size="15.90" y="794.00">)</tspan></text>
<text x="1267.78" y="881.75" font-size="19.05" font-weight="normal" textLength="143.71" lengthAdjust="spacingAndGlyphs" stroke="#000" stroke-width="0.55"><tspan y="881.75">S</tspan><tspan y="881.75">U</tspan><tspan y="881.75">O</tspan><tspan y="881.75">O</tspan><tspan y="881.75">2</tspan><tspan y="881.75">-</tspan><tspan y="881.75">O</tspan><tspan y="881.75">1</tspan><tspan y="881.75">O</tspan><tspan y="881.75">7</tspan><tspan y="881.75">3</tspan><tspan font-size="14.67" y="879.71">(</tspan><tspan y="881.75">2</tspan><tspan font-size="14.67" y="879.71">)</tspan></text>
<text x="1346.45" y="855.66" font-size="21.49" font-weight="normal" textLength="143.62" lengthAdjust="spacingAndGlyphs" stroke="#000" stroke-width="0.55"><tspan y="855.66">S</tspan><tspan y="855.66">U</tspan><tspan y="855.66">O</tspan><tspan y="855.66">O</tspan><tspan y="855.66">2</tspan><tspan y="855.66">-</tspan><tspan y="855.66">O</tspan><tspan y="855.66">O</tspan><tspan y="855.66">9</tspan><tspan y="855.66">O</tspan><tspan y="855.66">6</tspan><tspan font-size="16.55" y="853.36">(</tspan><tspan y="855.66">2</tspan><tspan font-size="16.55" y="853.36">)</tspan></text>
<text x="1358.90" y="912.00" font-size="22.19" font-weight="normal" textLength="114.20" lengthAdjust="spacingAndGlyphs" stroke="#000" stroke-width="0.55">SUOO2-O1O72</text>
<text x="1181.41" y="1040.00" font-size="22.59" font-weight="normal" textLength="112.65" lengthAdjust="spacingAndGlyphs" stroke="#000" stroke-width="0.55">SUOO2-OO626</text>
<text x="413.86" y="958.75" font-size="22.76" font-weight="normal" textLength="112.80" lengthAdjust="spacingAndGlyphs" stroke="#000" stroke-width="0.55">9O179-14O62</text>
<text x="432.90" y="982.00" font-size="22.19" font-weight="normal" textLength="113.20" lengthAdjust="spacingAndGlyphs" stroke="#000" stroke-width="0.55">9O56O-14O27</text>
<text x="710.50" y="818.00" font-size="21.69" font-weight="normal" textLength="112.56" lengthAdjust="spacingAndGlyphs" stroke="#000" stroke-width="0.55">9O179-14O62</text>
<text x="840.92" y="872.00" font-size="21.46" font-weight="normal" textLength="112.69" lengthAdjust="spacingAndGlyphs" stroke="#000" stroke-width="0.55">9O56O-14O27</text>
<text x="857.67" y="988.00" font-size="22.59" font-weight="normal" textLength="112.91" lengthAdjust="spacingAndGlyphs" stroke="#000" stroke-width="0.55">9O1O5-1412O</text>
<text x="841.49" y="1032.71" font-size="20.56" font-weight="normal" textLength="143.54" lengthAdjust="spacingAndGlyphs" stroke="#000" stroke-width="0.55"><tspan y="1032.71">9</tspan><tspan y="1032.71">O</tspan><tspan y="1032.71">1</tspan><tspan y="1032.71">O</tspan><tspan y="1032.71">5</tspan><tspan y="1032.71">-</tspan><tspan y="1032.71">1</tspan><tspan y="1032.71">2</tspan><tspan y="1032.71">2</tspan><tspan y="1032.71">2</tspan><tspan y="1032.71">8</tspan><tspan font-size="15.83" y="1030.51">(</tspan><tspan y="1032.71">4</tspan><tspan font-size="15.83" y="1030.51">)</tspan></text>
<text x="682.62" y="1084.75" font-size="23.62" font-weight="normal" textLength="113.02" lengthAdjust="spacingAndGlyphs" stroke="#000" stroke-width="0.55">9O1O5-14129</text>
<text x="228.05" y="487.50" font-size="19.34" font-weight="normal" textLength="86.90" lengthAdjust="spacingAndGlyphs" stroke="#000" stroke-width="0.55">REFER TO</text>
<text x="228.00" y="509.00" font-size="19.73" font-weight="normal" textLength="96.98" lengthAdjust="spacingAndGlyphs" stroke="#000" stroke-width="0.55">FIG 43-O2</text>
<text x="226.81" y="531.03" font-size="22.57" font-weight="normal" textLength="130.40" lengthAdjust="spacingAndGlyphs" stroke="#000" stroke-width="0.55"><tspan font-size="17.38" y="528.61">(</tspan><tspan y="531.03">P</tspan><tspan y="531.03">N</tspan><tspan y="531.03">C</tspan><tspan y="531.03"> </tspan><tspan y="531.03">4</tspan><tspan y="531.03">3</tspan><tspan y="531.03">4</tspan><tspan y="531.03">1</tspan><tspan y="531.03">O</tspan><tspan y="531.03">M</tspan><tspan font-size="17.38" y="528.61">)</tspan></text>
<text x="582.83" y="794.00" font-size="22.69" font-weight="normal" textLength="86.28" lengthAdjust="spacingAndGlyphs" stroke="#000" stroke-width="0.55">REFER TO</text>
<text x="582.37" y="815.50" font-size="22.19" font-weight="normal" textLength="97.73" lengthAdjust="spacingAndGlyphs" stroke="#000" stroke-width="0.55">FIG 43-O2</text>
<text x="581.39" y="837.16" font-size="20.80" font-weight="normal" textLength="131.49" lengthAdjust="spacingAndGlyphs" stroke="#000" stroke-width="0.55"><tspan font-size="16.02" y="834.93">(</tspan><tspan y="837.16">P</tspan><tspan y="837.16">N</tspan><tspan y="837.16">C</tspan><tspan y="837.16"> </tspan><tspan y="837.16">4</tspan><tspan y="837.16">3</tspan><tspan y="837.16">4</tspan><tspan y="837.16">2</tspan><tspan y="837.16">O</tspan><tspan y="837.16">H</tspan><tspan font-size="16.02" y="834.93">)</tspan></text>
<text x="1509.00" y="1091.50" font-size="21.08" font-weight="normal" textLength="79.03" lengthAdjust="spacingAndGlyphs" stroke="#000" stroke-width="0.2">434611B</text>
</g>
</svg></body></html>
